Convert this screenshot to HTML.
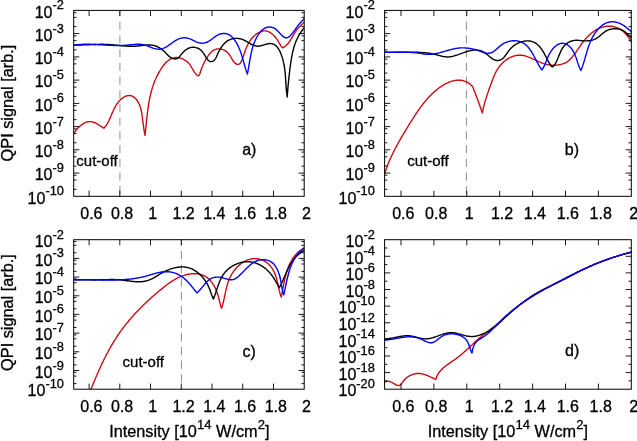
<!DOCTYPE html>
<html lang="en"><head><meta charset="utf-8"><title>QPI signal vs intensity</title>
<style>html,body{margin:0;padding:0;background:#fff}body{width:637px;height:441px;overflow:hidden}</style>
</head><body>
<svg width="637" height="441" viewBox="0 0 637 441" style="display:block">
<rect width="637" height="441" fill="#fff"/>
<defs>
<clipPath id="cpa"><rect x="73.7" y="10.4" width="230.5" height="185.9"/></clipPath>
<clipPath id="cpb"><rect x="384.6" y="10.4" width="246.7" height="185.9"/></clipPath>
<clipPath id="cpc"><rect x="73.7" y="239.7" width="230.5" height="149.5"/></clipPath>
<clipPath id="cpd"><rect x="384.6" y="239.7" width="246.7" height="149.5"/></clipPath>
</defs>
<line x1="119.9" y1="10.4" x2="119.9" y2="196.3" stroke="#a9a9a9" stroke-width="1.3" stroke-dasharray="8.2 5.5" stroke-dashoffset="2.4"/>
<g clip-path="url(#cpa)" fill="none" stroke-width="1.4" stroke-linejoin="round" stroke-linecap="butt">
<path d="M73.8 133.1L74.2 132.6L74.6 132.0L75.0 131.4L75.5 130.9L75.9 130.3L76.4 129.8L76.9 129.2L77.4 128.6L77.9 128.1L78.5 127.5L79.0 127.0L79.6 126.5L80.1 126.0L80.7 125.5L81.3 125.0L81.9 124.6L82.6 124.2L83.2 123.8L83.8 123.4L84.5 123.0L85.1 122.7L85.8 122.4L86.4 122.2L87.1 122.0L87.8 121.8L88.4 121.7L89.1 121.6L89.8 121.6L90.4 121.6L91.1 121.6L91.8 121.7L92.4 121.9L93.1 122.1L93.8 122.3L94.4 122.5L95.1 122.8L95.8 123.1L96.4 123.5L97.1 123.8L97.7 124.2L98.4 124.6L99.0 125.0L99.6 125.4L100.3 125.8L100.9 126.2L101.5 126.7L102.1 127.1L102.7 127.5L103.3 127.8L103.9 128.2L103.9 128.2L104.4 127.6L104.9 127.1L105.3 126.5L105.8 125.9L106.2 125.3L106.6 124.7L107.0 124.1L107.3 123.5L107.7 122.9L108.0 122.3L108.3 121.7L108.7 121.1L109.0 120.5L109.3 119.9L109.5 119.3L109.8 118.6L110.1 118.0L110.4 117.4L110.6 116.8L110.9 116.1L111.2 115.5L111.4 114.9L111.7 114.2L112.0 113.6L112.2 112.9L112.5 112.3L112.8 111.7L113.1 111.0L113.4 110.4L113.7 109.7L114.0 109.1L114.3 108.4L114.7 107.8L115.0 107.1L115.4 106.5L115.8 105.8L116.2 105.2L116.6 104.5L117.0 103.9L117.4 103.3L117.9 102.7L118.4 102.1L118.8 101.5L119.3 100.9L119.8 100.4L120.4 99.8L120.9 99.3L121.4 98.8L122.0 98.4L122.6 97.9L123.2 97.5L123.7 97.1L124.4 96.8L125.0 96.5L125.6 96.2L126.3 96.0L126.9 95.8L127.6 95.7L128.2 95.6L128.9 95.5L129.6 95.5L130.2 95.6L130.8 95.7L131.5 95.8L132.1 96.0L132.6 96.3L133.2 96.6L133.8 97.0L134.3 97.4L134.8 97.8L135.3 98.3L135.8 98.8L136.3 99.3L136.7 99.9L137.1 100.5L137.5 101.1L137.9 101.7L138.3 102.4L138.7 103.1L139.0 103.8L139.3 104.4L139.6 105.1L139.9 105.8L140.1 106.5L140.4 107.2L140.6 107.9L140.8 108.7L141.0 109.4L141.1 110.1L141.3 110.8L141.4 111.5L141.6 112.2L141.7 112.9L141.8 113.6L141.9 114.3L142.0 115.0L142.1 115.7L142.2 116.4L142.3 117.1L142.4 117.8L142.5 118.5L142.5 119.2L142.6 119.9L142.7 120.6L142.8 121.3L142.9 122.0L143.0 122.7L143.1 123.4L143.2 124.1L143.3 124.8L143.4 125.5L143.5 126.2L143.6 126.9L143.7 127.6L143.8 128.3L143.9 129.0L144.0 129.7L144.1 130.4L144.2 131.1L144.3 131.8L144.5 132.5L144.6 133.2L144.7 133.9L144.9 134.6L145.0 135.3L145.0 135.3L145.1 134.6L145.2 133.9L145.2 133.2L145.3 132.5L145.4 131.8L145.5 131.1L145.6 130.4L145.6 129.7L145.7 129.0L145.8 128.3L145.9 127.6L145.9 126.9L146.0 126.1L146.1 125.4L146.2 124.7L146.2 124.0L146.3 123.3L146.4 122.6L146.4 121.9L146.5 121.2L146.6 120.5L146.7 119.8L146.7 119.1L146.8 118.4L146.9 117.7L147.0 117.0L147.0 116.3L147.1 115.6L147.2 114.9L147.3 114.2L147.4 113.5L147.4 112.8L147.5 112.2L147.6 111.5L147.7 110.8L147.8 110.1L147.9 109.4L148.0 108.7L148.1 108.0L148.2 107.3L148.3 106.6L148.4 105.9L148.5 105.2L148.6 104.5L148.7 103.9L148.8 103.2L148.9 102.5L149.0 101.8L149.2 101.1L149.3 100.4L149.4 99.7L149.6 99.1L149.7 98.4L149.8 97.7L150.0 97.0L150.1 96.4L150.3 95.7L150.4 95.0L150.6 94.3L150.8 93.6L150.9 93.0L151.1 92.3L151.3 91.6L151.4 91.0L151.6 90.3L151.8 89.6L152.0 89.0L152.2 88.3L152.4 87.6L152.6 87.0L152.9 86.3L153.1 85.6L153.3 85.0L153.5 84.3L153.8 83.7L154.0 83.0L154.3 82.4L154.5 81.7L154.8 81.1L155.0 80.4L155.3 79.8L155.6 79.1L155.9 78.5L156.2 77.8L156.5 77.2L156.8 76.5L157.1 75.9L157.4 75.3L157.7 74.6L158.1 74.0L158.4 73.3L158.8 72.7L159.1 72.1L159.5 71.5L159.9 70.8L160.2 70.2L160.6 69.6L161.0 68.9L161.4 68.3L161.8 67.7L162.2 67.1L162.7 66.5L163.1 65.9L163.6 65.3L164.0 64.8L164.5 64.2L164.9 63.7L165.4 63.1L165.9 62.6L166.4 62.1L166.9 61.6L167.4 61.2L168.0 60.7L168.5 60.3L169.0 59.9L169.6 59.5L170.2 59.2L170.7 58.9L171.3 58.6L171.9 58.3L172.5 58.1L173.1 57.9L173.8 57.8L174.4 57.6L175.0 57.5L175.7 57.5L176.4 57.5L177.0 57.5L177.7 57.6L178.4 57.7L179.1 57.8L179.8 58.0L180.5 58.2L181.2 58.4L181.9 58.6L182.6 58.9L183.2 59.2L183.9 59.6L184.5 59.9L185.2 60.3L185.8 60.7L186.4 61.2L187.0 61.6L187.5 62.1L188.0 62.6L188.5 63.1L189.0 63.6L189.4 64.1L189.9 64.7L190.3 65.2L190.6 65.8L191.0 66.4L191.4 67.0L191.7 67.6L192.1 68.2L192.4 68.8L192.8 69.4L193.2 70.0L193.5 70.6L193.9 71.3L194.3 71.9L194.7 72.5L195.2 73.1L195.6 73.7L196.1 74.3L196.6 74.8L197.1 75.2L197.5 75.5L198.0 75.7L198.4 75.7L198.8 75.5L199.2 75.2L199.5 74.6L199.8 73.9L200.1 73.1L200.4 72.3L200.6 71.4L200.9 70.6L201.1 69.9L201.4 69.1L201.6 68.5L201.8 67.8L202.1 67.2L202.3 66.6L202.6 66.0L202.8 65.5L203.1 64.9L203.3 64.4L203.6 63.8L203.9 63.2L204.2 62.6L204.5 61.9L204.8 61.3L205.2 60.7L205.5 60.0L205.9 59.4L206.3 58.7L206.6 58.1L207.0 57.5L207.4 56.8L207.8 56.2L208.3 55.6L208.7 55.0L209.2 54.4L209.6 53.8L210.1 53.3L210.6 52.7L211.1 52.2L211.6 51.8L212.2 51.3L212.7 50.9L213.3 50.5L213.9 50.2L214.4 49.9L215.1 49.6L215.7 49.4L216.3 49.2L216.9 49.0L217.6 48.9L218.3 48.9L218.9 48.9L219.6 48.9L220.3 49.0L221.0 49.1L221.6 49.2L222.3 49.4L223.0 49.6L223.6 49.9L224.3 50.2L224.9 50.5L225.5 50.9L226.1 51.3L226.7 51.7L227.2 52.2L227.7 52.7L228.3 53.2L228.7 53.8L229.2 54.4L229.6 55.0L230.0 55.6L230.4 56.3L230.8 56.9L231.2 57.6L231.5 58.2L231.9 58.9L232.3 59.5L232.7 60.1L233.0 60.7L233.4 61.3L233.9 61.9L234.3 62.4L234.8 62.9L235.3 63.3L235.8 63.7L236.4 64.0L237.0 64.3L237.6 64.4L238.1 64.4L238.7 64.3L239.2 64.0L239.7 63.6L240.2 63.2L240.6 62.7L240.9 62.1L241.3 61.5L241.6 60.9L241.9 60.3L242.2 59.6L242.5 58.9L242.7 58.2L243.0 57.4L243.2 56.7L243.4 56.0L243.7 55.3L243.9 54.5L244.1 53.8L244.4 53.1L244.6 52.4L244.8 51.7L245.1 51.1L245.3 50.4L245.6 49.7L245.8 49.0L246.1 48.4L246.4 47.7L246.6 47.1L246.9 46.4L247.2 45.8L247.5 45.2L247.8 44.6L248.1 44.0L248.4 43.4L248.8 42.8L249.1 42.2L249.5 41.6L249.8 41.0L250.2 40.4L250.6 39.9L251.0 39.3L251.5 38.8L251.9 38.3L252.4 37.7L252.8 37.2L253.3 36.7L253.8 36.2L254.3 35.7L254.9 35.3L255.5 34.8L256.0 34.3L256.6 33.9L257.2 33.5L257.9 33.1L258.5 32.7L259.1 32.4L259.8 32.1L260.4 31.8L261.1 31.5L261.7 31.3L262.4 31.1L263.1 31.0L263.7 30.9L264.4 30.9L265.1 30.9L265.7 30.9L266.4 31.0L267.0 31.2L267.7 31.4L268.3 31.6L268.9 31.9L269.6 32.2L270.2 32.5L270.8 32.9L271.4 33.3L271.9 33.8L272.5 34.2L273.0 34.7L273.6 35.2L274.1 35.7L274.6 36.3L275.1 36.8L275.6 37.4L276.0 38.0L276.5 38.6L276.9 39.1L277.3 39.7L277.7 40.3L278.0 40.9L278.4 41.5L278.7 42.1L279.0 42.6L279.4 43.2L279.7 43.8L280.1 44.4L280.4 45.0L280.8 45.6L281.2 46.1L281.6 46.7L282.0 47.3L282.5 47.9L282.5 47.9L283.2 47.6L283.8 47.2L284.4 46.8L285.0 46.4L285.6 46.0L286.1 45.6L286.6 45.1L287.1 44.6L287.6 44.1L288.0 43.5L288.5 43.0L288.9 42.4L289.3 41.8L289.7 41.2L290.1 40.6L290.5 40.0L290.9 39.4L291.3 38.8L291.6 38.1L292.0 37.5L292.3 36.9L292.7 36.2L293.1 35.6L293.4 34.9L293.8 34.3L294.2 33.7L294.6 33.1L295.0 32.4L295.4 31.8L295.8 31.2L296.2 30.6L296.7 30.1L297.1 29.5L297.6 28.9L298.0 28.4L298.5 27.8L299.0 27.3L299.5 26.7L300.0 26.2L300.5 25.7L301.0 25.2L301.5 24.7L302.0 24.2L302.6 23.7L303.1 23.2L303.7 22.7L304.3 22.2L304.8 21.8L305.4 21.3L306.0 20.9" stroke="#cc0a14"/>
<path d="M73.8 45.1L74.5 45.1L75.2 45.1L75.9 45.1L76.6 45.1L77.3 45.1L78.0 45.1L78.7 45.1L79.4 45.0L80.1 45.0L80.8 45.0L81.5 45.0L82.2 45.0L82.9 44.9L83.6 44.9L84.3 44.9L85.0 44.9L85.7 44.8L86.4 44.8L87.1 44.8L87.8 44.7L88.5 44.7L89.3 44.7L90.0 44.6L90.7 44.6L91.4 44.6L92.1 44.6L92.8 44.5L93.5 44.5L94.2 44.5L94.9 44.5L95.6 44.4L96.3 44.4L97.0 44.4L97.7 44.4L98.4 44.4L99.1 44.4L99.8 44.3L100.5 44.3L101.2 44.3L101.9 44.3L102.6 44.3L103.3 44.3L104.0 44.4L104.7 44.4L105.4 44.4L106.1 44.4L106.8 44.4L107.5 44.5L108.2 44.5L108.9 44.5L109.6 44.6L110.3 44.6L111.0 44.7L111.7 44.8L112.4 44.8L113.1 44.9L113.8 44.9L114.5 45.0L115.2 45.1L115.9 45.1L116.6 45.2L117.3 45.3L118.0 45.4L118.7 45.4L119.4 45.5L120.1 45.6L120.8 45.6L121.5 45.7L122.2 45.8L122.9 45.8L123.6 45.9L124.3 46.0L125.0 46.0L125.7 46.1L126.4 46.1L127.1 46.1L127.8 46.2L128.5 46.2L129.2 46.2L129.9 46.3L130.6 46.3L131.3 46.3L132.0 46.3L132.7 46.3L133.4 46.3L134.1 46.3L134.8 46.2L135.5 46.2L136.2 46.2L136.9 46.1L137.6 46.0L138.3 46.0L139.0 45.9L139.7 45.8L140.4 45.7L141.1 45.6L141.8 45.6L142.5 45.5L143.3 45.4L144.0 45.3L144.7 45.2L145.4 45.2L146.1 45.1L146.8 45.0L147.4 45.0L148.1 45.0L148.8 45.0L149.5 45.0L150.2 45.0L150.9 45.0L151.6 45.1L152.2 45.2L152.9 45.3L153.6 45.4L154.3 45.6L154.9 45.8L155.6 46.0L156.2 46.2L156.9 46.5L157.5 46.8L158.2 47.1L158.8 47.5L159.4 47.8L160.0 48.2L160.7 48.6L161.3 49.0L161.8 49.5L162.4 49.9L163.0 50.4L163.6 50.8L164.1 51.3L164.7 51.8L165.2 52.3L165.7 52.9L166.2 53.4L166.7 53.9L167.2 54.4L167.7 54.9L168.2 55.4L168.7 55.9L169.2 56.4L169.7 56.8L170.3 57.2L170.8 57.6L171.4 57.9L172.0 58.2L172.7 58.5L173.3 58.7L174.0 58.9L174.6 59.0L175.3 59.0L176.0 58.9L176.6 58.7L177.2 58.5L177.8 58.1L178.3 57.7L178.8 57.3L179.3 56.8L179.8 56.2L180.3 55.6L180.7 55.1L181.2 54.5L181.7 53.9L182.2 53.4L182.7 52.8L183.2 52.3L183.7 51.8L184.2 51.3L184.7 50.8L185.3 50.3L185.8 49.9L186.4 49.5L187.0 49.1L187.6 48.8L188.2 48.5L188.8 48.2L189.4 47.9L190.0 47.7L190.7 47.6L191.4 47.4L192.0 47.3L192.7 47.3L193.5 47.3L194.2 47.3L194.9 47.4L195.7 47.6L196.4 47.8L197.1 48.0L197.8 48.2L198.5 48.5L199.1 48.8L199.7 49.2L200.2 49.6L200.8 50.0L201.2 50.5L201.7 51.0L202.2 51.5L202.6 52.0L203.0 52.6L203.4 53.1L203.8 53.7L204.2 54.3L204.6 54.9L205.0 55.6L205.3 56.2L205.7 56.8L206.1 57.5L206.6 58.2L207.0 58.8L207.5 59.4L207.9 60.0L208.4 60.5L209.0 60.9L209.5 61.3L210.1 61.5L210.6 61.6L211.2 61.6L211.8 61.5L212.4 61.4L213.0 61.1L213.5 60.8L214.0 60.4L214.5 59.9L214.9 59.4L215.3 58.9L215.7 58.3L216.0 57.7L216.3 57.1L216.6 56.4L216.9 55.7L217.2 55.1L217.5 54.4L217.8 53.7L218.1 53.0L218.4 52.3L218.8 51.7L219.1 51.0L219.5 50.3L219.8 49.7L220.2 49.1L220.6 48.4L221.0 47.8L221.4 47.2L221.8 46.6L222.2 46.0L222.7 45.4L223.1 44.9L223.6 44.3L224.1 43.8L224.6 43.3L225.1 42.8L225.6 42.4L226.1 41.9L226.6 41.5L227.2 41.1L227.8 40.7L228.3 40.4L228.9 40.1L229.5 39.8L230.1 39.5L230.8 39.3L231.4 39.1L232.1 38.9L232.8 38.7L233.4 38.6L234.1 38.5L234.8 38.4L235.5 38.4L236.2 38.4L236.9 38.4L237.7 38.4L238.4 38.5L239.1 38.6L239.8 38.7L240.5 38.9L241.2 39.0L241.8 39.2L242.5 39.5L243.2 39.7L243.8 40.0L244.5 40.3L245.1 40.6L245.7 41.0L246.4 41.3L247.0 41.7L247.6 42.0L248.2 42.4L248.8 42.8L249.4 43.1L250.0 43.5L250.6 43.8L251.2 44.2L251.8 44.5L252.4 44.8L253.0 45.1L253.6 45.3L254.3 45.5L254.9 45.7L255.5 45.9L256.2 46.0L256.8 46.1L257.5 46.2L258.2 46.2L258.9 46.1L259.6 46.0L260.3 45.9L261.1 45.7L261.8 45.5L262.5 45.3L263.3 45.1L264.0 44.9L264.8 44.7L265.5 44.4L266.2 44.2L267.0 44.0L267.7 43.9L268.4 43.7L269.1 43.6L269.8 43.5L270.4 43.5L271.1 43.6L271.7 43.6L272.3 43.8L272.9 43.9L273.4 44.2L274.0 44.4L274.5 44.7L275.0 45.1L275.5 45.5L276.0 45.9L276.5 46.3L276.9 46.8L277.4 47.3L277.8 47.9L278.2 48.5L278.6 49.1L279.0 49.7L279.3 50.3L279.7 51.0L280.0 51.6L280.3 52.3L280.6 53.0L280.9 53.8L281.2 54.5L281.5 55.2L281.7 56.0L282.0 56.7L282.2 57.5L282.5 58.2L282.7 59.0L282.9 59.7L283.1 60.5L283.2 61.2L283.4 61.9L283.6 62.7L283.7 63.4L283.9 64.1L284.0 64.8L284.2 65.5L284.3 66.1L284.4 66.8L284.5 67.5L284.6 68.1L284.7 68.8L284.8 69.5L284.9 70.1L284.9 70.8L285.0 71.4L285.1 72.0L285.1 72.7L285.2 73.3L285.3 73.9L285.3 74.6L285.4 75.2L285.4 75.8L285.5 76.5L285.5 77.1L285.5 77.7L285.6 78.4L285.6 79.0L285.7 79.6L285.7 80.3L285.7 80.9L285.8 81.6L285.8 82.2L285.8 82.9L285.9 83.6L285.9 84.2L286.0 84.9L286.0 85.6L286.1 86.3L286.1 87.0L286.2 87.7L286.2 88.4L286.3 89.2L286.4 89.9L286.4 90.7L286.5 91.4L286.6 92.2L286.7 93.0L286.8 93.8L286.9 94.6L287.0 95.4L287.1 96.2L287.2 97.1L287.2 97.1L287.2 96.4L287.3 95.7L287.3 95.0L287.4 94.3L287.4 93.6L287.5 92.9L287.6 92.2L287.6 91.5L287.7 90.8L287.7 90.1L287.8 89.3L287.8 88.6L287.9 87.9L288.0 87.2L288.0 86.5L288.1 85.8L288.2 85.1L288.2 84.4L288.3 83.7L288.4 83.0L288.4 82.3L288.5 81.6L288.6 80.9L288.6 80.2L288.7 79.5L288.8 78.8L288.9 78.0L288.9 77.3L289.0 76.6L289.1 75.9L289.2 75.2L289.3 74.5L289.3 73.8L289.4 73.1L289.5 72.4L289.6 71.7L289.7 71.0L289.7 70.3L289.8 69.5L289.9 68.8L290.0 68.1L290.1 67.4L290.2 66.7L290.3 66.0L290.4 65.3L290.5 64.6L290.6 63.9L290.7 63.2L290.8 62.5L290.9 61.8L291.0 61.1L291.1 60.4L291.2 59.7L291.3 59.0L291.5 58.2L291.6 57.5L291.7 56.8L291.8 56.1L292.0 55.4L292.1 54.8L292.2 54.1L292.4 53.4L292.5 52.7L292.7 52.0L292.9 51.3L293.0 50.6L293.2 49.9L293.4 49.2L293.6 48.6L293.7 47.9L293.9 47.2L294.1 46.5L294.3 45.9L294.6 45.2L294.8 44.5L295.0 43.9L295.3 43.2L295.5 42.6L295.8 41.9L296.0 41.3L296.3 40.6L296.6 40.0L296.9 39.3L297.2 38.7L297.5 38.1L297.8 37.4L298.1 36.8L298.5 36.2L298.8 35.6L299.2 35.0L299.5 34.4L299.9 33.8L300.3 33.2L300.7 32.6L301.1 32.0L301.5 31.4L301.9 30.8L302.3 30.3L302.8 29.7L303.2 29.1L303.7 28.6L304.1 28.0L304.6 27.4L305.0 26.9L305.5 26.3L306.0 25.8" stroke="#000"/>
<path d="M73.8 45.1L74.5 45.0L75.2 44.9L75.9 44.8L76.6 44.8L77.3 44.7L78.0 44.6L78.7 44.6L79.4 44.5L80.1 44.5L80.8 44.4L81.5 44.4L82.2 44.4L82.9 44.3L83.6 44.3L84.4 44.3L85.1 44.3L85.8 44.3L86.5 44.3L87.2 44.3L87.9 44.3L88.6 44.3L89.3 44.3L90.0 44.3L90.7 44.3L91.4 44.4L92.1 44.4L92.8 44.4L93.5 44.4L94.2 44.5L94.9 44.5L95.6 44.5L96.3 44.6L97.0 44.6L97.7 44.6L98.4 44.7L99.1 44.7L99.8 44.8L100.5 44.8L101.2 44.8L101.9 44.9L102.6 44.9L103.3 45.0L104.0 45.0L104.7 45.1L105.4 45.1L106.1 45.1L106.8 45.2L107.5 45.2L108.2 45.3L108.9 45.3L109.6 45.3L110.3 45.4L111.0 45.4L111.7 45.4L112.4 45.4L113.1 45.5L113.8 45.5L114.5 45.5L115.2 45.5L115.9 45.5L116.6 45.5L117.3 45.5L118.0 45.6L118.7 45.5L119.4 45.5L120.1 45.5L120.8 45.5L121.5 45.5L122.2 45.5L122.9 45.4L123.6 45.4L124.3 45.4L125.0 45.3L125.7 45.3L126.4 45.2L127.1 45.2L127.8 45.1L128.5 45.0L129.2 45.0L129.9 44.9L130.6 44.8L131.3 44.7L132.0 44.6L132.7 44.6L133.4 44.5L134.1 44.4L134.8 44.4L135.5 44.3L136.2 44.3L136.9 44.3L137.6 44.3L138.3 44.2L139.0 44.3L139.7 44.3L140.3 44.3L141.0 44.4L141.7 44.5L142.4 44.6L143.1 44.7L143.8 44.8L144.4 45.0L145.1 45.2L145.8 45.4L146.5 45.6L147.1 45.8L147.8 46.1L148.5 46.4L149.1 46.6L149.8 46.9L150.5 47.2L151.1 47.5L151.8 47.7L152.5 48.0L153.1 48.2L153.8 48.4L154.5 48.6L155.2 48.7L155.9 48.9L156.5 49.0L157.2 49.1L157.9 49.1L158.6 49.2L159.2 49.2L159.9 49.1L160.5 49.0L161.2 48.9L161.8 48.8L162.5 48.6L163.1 48.4L163.7 48.2L164.4 47.9L165.0 47.6L165.6 47.3L166.2 47.0L166.8 46.6L167.4 46.2L168.0 45.9L168.6 45.5L169.1 45.0L169.7 44.6L170.3 44.2L170.9 43.8L171.5 43.3L172.1 42.9L172.7 42.5L173.3 42.0L173.9 41.6L174.5 41.2L175.1 40.8L175.7 40.5L176.3 40.1L176.9 39.8L177.6 39.4L178.2 39.1L178.9 38.9L179.5 38.6L180.2 38.4L180.8 38.2L181.5 38.1L182.2 38.0L182.9 37.9L183.6 37.8L184.3 37.8L185.0 37.8L185.7 37.9L186.4 38.0L187.1 38.1L187.8 38.2L188.5 38.4L189.2 38.6L189.9 38.8L190.5 39.1L191.2 39.3L191.8 39.6L192.5 40.0L193.1 40.3L193.8 40.6L194.4 40.9L195.1 41.3L195.7 41.6L196.3 41.9L197.0 42.1L197.6 42.4L198.3 42.6L198.9 42.8L199.6 42.9L200.2 43.0L200.9 43.1L201.6 43.2L202.2 43.2L202.9 43.1L203.6 43.1L204.2 43.0L204.9 42.9L205.5 42.7L206.1 42.5L206.8 42.3L207.4 42.0L208.0 41.7L208.6 41.4L209.2 41.0L209.8 40.6L210.4 40.2L211.0 39.8L211.5 39.3L212.1 38.9L212.7 38.5L213.3 38.0L213.9 37.6L214.5 37.1L215.1 36.7L215.7 36.3L216.3 35.9L216.9 35.5L217.5 35.1L218.2 34.8L218.8 34.5L219.5 34.2L220.2 34.0L220.9 33.8L221.6 33.7L222.3 33.6L223.0 33.5L223.7 33.5L224.4 33.5L225.1 33.5L225.7 33.6L226.4 33.7L227.1 33.9L227.7 34.1L228.3 34.4L228.9 34.7L229.5 35.0L230.1 35.4L230.6 35.8L231.2 36.3L231.7 36.7L232.2 37.2L232.7 37.7L233.2 38.3L233.6 38.8L234.1 39.4L234.5 39.9L234.9 40.5L235.3 41.1L235.7 41.7L236.1 42.3L236.5 42.9L236.8 43.5L237.2 44.1L237.5 44.8L237.8 45.4L238.1 46.0L238.5 46.6L238.7 47.3L239.0 47.9L239.3 48.6L239.6 49.2L239.8 49.9L240.1 50.5L240.3 51.2L240.6 51.8L240.8 52.5L241.0 53.2L241.3 53.8L241.5 54.5L241.7 55.2L241.9 55.8L242.1 56.5L242.3 57.2L242.5 57.9L242.7 58.5L242.9 59.2L243.1 59.9L243.3 60.6L243.5 61.3L243.7 61.9L243.9 62.6L244.0 63.3L244.2 64.0L244.4 64.6L244.6 65.3L244.8 66.0L245.0 66.7L245.2 67.4L245.4 68.0L245.6 68.7L245.8 69.4L246.0 70.0L246.2 70.7L246.5 71.4L246.7 72.0L246.9 72.7L247.2 73.3L247.4 74.0L247.4 74.0L247.5 73.3L247.7 72.6L247.8 71.9L248.0 71.2L248.1 70.5L248.2 69.8L248.3 69.1L248.5 68.4L248.6 67.7L248.7 67.1L248.8 66.4L248.9 65.7L249.1 65.0L249.2 64.3L249.3 63.6L249.4 62.9L249.5 62.2L249.6 61.5L249.7 60.8L249.9 60.1L250.0 59.4L250.1 58.7L250.2 58.0L250.3 57.3L250.5 56.6L250.6 55.9L250.7 55.3L250.9 54.6L251.0 53.9L251.2 53.2L251.3 52.5L251.5 51.8L251.6 51.1L251.8 50.5L252.0 49.8L252.2 49.1L252.3 48.4L252.5 47.8L252.7 47.1L252.9 46.4L253.1 45.8L253.4 45.1L253.6 44.4L253.8 43.8L254.1 43.1L254.3 42.5L254.6 41.8L254.9 41.2L255.2 40.5L255.5 39.9L255.8 39.2L256.1 38.6L256.4 37.9L256.7 37.3L257.1 36.7L257.5 36.0L257.8 35.4L258.2 34.8L258.6 34.2L259.0 33.6L259.5 33.0L259.9 32.4L260.4 31.9L260.9 31.3L261.3 30.8L261.9 30.3L262.4 29.8L262.9 29.4L263.5 29.0L264.0 28.6L264.6 28.3L265.2 28.0L265.9 27.7L266.5 27.5L267.2 27.3L267.8 27.2L268.5 27.1L269.2 27.0L269.9 27.0L270.5 27.1L271.2 27.2L271.9 27.3L272.6 27.5L273.2 27.7L273.8 28.0L274.4 28.3L275.0 28.7L275.6 29.1L276.2 29.6L276.8 30.1L277.3 30.6L277.9 31.1L278.4 31.7L279.0 32.3L279.5 32.9L280.0 33.5L280.6 34.1L281.1 34.6L281.6 35.2L282.2 35.7L282.7 36.2L283.3 36.6L283.8 37.0L284.4 37.3L284.9 37.5L285.5 37.7L286.0 37.8L286.6 37.8L287.1 37.7L287.6 37.6L288.2 37.4L288.7 37.1L289.2 36.7L289.7 36.3L290.2 35.8L290.7 35.3L291.1 34.8L291.6 34.2L292.1 33.6L292.5 33.0L293.0 32.4L293.4 31.8L293.9 31.3L294.3 30.7L294.7 30.1L295.2 29.5L295.6 28.9L296.0 28.3L296.4 27.7L296.9 27.2L297.3 26.6L297.7 26.0L298.1 25.5L298.6 24.9L299.0 24.4L299.4 23.8L299.9 23.3L300.3 22.8L300.8 22.2L301.3 21.7L301.8 21.2L302.2 20.7L302.7 20.2L303.3 19.8L303.8 19.3L304.3 18.8L304.9 18.4L305.4 17.9L306.0 17.5" stroke="#0000ff"/>
</g>
<path d="M73.7 26.6L76.5 26.6M304.2 26.6L301.4 26.6M73.7 17.4L76.5 17.4M304.2 17.4L301.4 17.4M73.7 12.7L76.5 12.7M304.2 12.7L301.4 12.7M73.7 33.6L79.3 33.6M304.2 33.6L298.6 33.6M73.7 49.9L76.5 49.9M304.2 49.9L301.4 49.9M73.7 40.6L76.5 40.6M304.2 40.6L301.4 40.6M73.7 35.9L76.5 35.9M304.2 35.9L301.4 35.9M73.7 56.9L79.3 56.9M304.2 56.9L298.6 56.9M73.7 73.1L76.5 73.1M304.2 73.1L301.4 73.1M73.7 63.9L76.5 63.9M304.2 63.9L301.4 63.9M73.7 59.1L76.5 59.1M304.2 59.1L301.4 59.1M73.7 80.1L79.3 80.1M304.2 80.1L298.6 80.1M73.7 96.4L76.5 96.4M304.2 96.4L301.4 96.4M73.7 87.1L76.5 87.1M304.2 87.1L301.4 87.1M73.7 82.4L76.5 82.4M304.2 82.4L301.4 82.4M73.7 103.4L79.3 103.4M304.2 103.4L298.6 103.4M73.7 119.6L76.5 119.6M304.2 119.6L301.4 119.6M73.7 110.3L76.5 110.3M304.2 110.3L301.4 110.3M73.7 105.6L76.5 105.6M304.2 105.6L301.4 105.6M73.7 126.6L79.3 126.6M304.2 126.6L298.6 126.6M73.7 142.8L76.5 142.8M304.2 142.8L301.4 142.8M73.7 133.6L76.5 133.6M304.2 133.6L301.4 133.6M73.7 128.8L76.5 128.8M304.2 128.8L301.4 128.8M73.7 149.8L79.3 149.8M304.2 149.8L298.6 149.8M73.7 166.1L76.5 166.1M304.2 166.1L301.4 166.1M73.7 156.8L76.5 156.8M304.2 156.8L301.4 156.8M73.7 152.1L76.5 152.1M304.2 152.1L301.4 152.1M73.7 173.1L79.3 173.1M304.2 173.1L298.6 173.1M73.7 189.3L76.5 189.3M304.2 189.3L301.4 189.3M73.7 180.1L76.5 180.1M304.2 180.1L301.4 180.1M73.7 175.3L76.5 175.3M304.2 175.3L301.4 175.3M89.1 10.4L89.1 16.0M89.1 196.3L89.1 190.7M119.8 10.4L119.8 16.0M119.8 196.3L119.8 190.7M150.5 10.4L150.5 16.0M150.5 196.3L150.5 190.7M181.3 10.4L181.3 16.0M181.3 196.3L181.3 190.7M212.0 10.4L212.0 16.0M212.0 196.3L212.0 190.7M242.7 10.4L242.7 16.0M242.7 196.3L242.7 190.7M273.5 10.4L273.5 16.0M273.5 196.3L273.5 190.7" stroke="#000" stroke-width="0.9" fill="none"/>
<rect x="73.7" y="10.4" width="230.5" height="185.9" fill="none" stroke="#000" stroke-width="1"/>
<text x="63.9" y="17.6" text-anchor="end" font-size="16" font-family="Liberation Sans, Arial, Helvetica, sans-serif" stroke="#000" stroke-width="0.3" fill="#000">10<tspan dy="-8.2" font-size="12.8">-2</tspan></text>
<text x="63.9" y="40.8" text-anchor="end" font-size="16" font-family="Liberation Sans, Arial, Helvetica, sans-serif" stroke="#000" stroke-width="0.3" fill="#000">10<tspan dy="-8.2" font-size="12.8">-3</tspan></text>
<text x="63.9" y="64.1" text-anchor="end" font-size="16" font-family="Liberation Sans, Arial, Helvetica, sans-serif" stroke="#000" stroke-width="0.3" fill="#000">10<tspan dy="-8.2" font-size="12.8">-4</tspan></text>
<text x="63.9" y="87.3" text-anchor="end" font-size="16" font-family="Liberation Sans, Arial, Helvetica, sans-serif" stroke="#000" stroke-width="0.3" fill="#000">10<tspan dy="-8.2" font-size="12.8">-5</tspan></text>
<text x="63.9" y="110.6" text-anchor="end" font-size="16" font-family="Liberation Sans, Arial, Helvetica, sans-serif" stroke="#000" stroke-width="0.3" fill="#000">10<tspan dy="-8.2" font-size="12.8">-6</tspan></text>
<text x="63.9" y="133.8" text-anchor="end" font-size="16" font-family="Liberation Sans, Arial, Helvetica, sans-serif" stroke="#000" stroke-width="0.3" fill="#000">10<tspan dy="-8.2" font-size="12.8">-7</tspan></text>
<text x="63.9" y="157.0" text-anchor="end" font-size="16" font-family="Liberation Sans, Arial, Helvetica, sans-serif" stroke="#000" stroke-width="0.3" fill="#000">10<tspan dy="-8.2" font-size="12.8">-8</tspan></text>
<text x="63.9" y="180.3" text-anchor="end" font-size="16" font-family="Liberation Sans, Arial, Helvetica, sans-serif" stroke="#000" stroke-width="0.3" fill="#000">10<tspan dy="-8.2" font-size="12.8">-9</tspan></text>
<text x="63.9" y="203.5" text-anchor="end" font-size="16" font-family="Liberation Sans, Arial, Helvetica, sans-serif" stroke="#000" stroke-width="0.3" fill="#000">10<tspan dy="-8.2" font-size="12.8">-10</tspan></text>
<text x="91.4" y="218.8" text-anchor="middle" font-size="16" font-family="Liberation Sans, Arial, Helvetica, sans-serif" stroke="#000" stroke-width="0.3" fill="#000">0.6</text>
<text x="122.1" y="218.8" text-anchor="middle" font-size="16" font-family="Liberation Sans, Arial, Helvetica, sans-serif" stroke="#000" stroke-width="0.3" fill="#000">0.8</text>
<text x="152.8" y="218.8" text-anchor="middle" font-size="16" font-family="Liberation Sans, Arial, Helvetica, sans-serif" stroke="#000" stroke-width="0.3" fill="#000">1</text>
<text x="183.6" y="218.8" text-anchor="middle" font-size="16" font-family="Liberation Sans, Arial, Helvetica, sans-serif" stroke="#000" stroke-width="0.3" fill="#000">1.2</text>
<text x="214.3" y="218.8" text-anchor="middle" font-size="16" font-family="Liberation Sans, Arial, Helvetica, sans-serif" stroke="#000" stroke-width="0.3" fill="#000">1.4</text>
<text x="245.0" y="218.8" text-anchor="middle" font-size="16" font-family="Liberation Sans, Arial, Helvetica, sans-serif" stroke="#000" stroke-width="0.3" fill="#000">1.6</text>
<text x="275.8" y="218.8" text-anchor="middle" font-size="16" font-family="Liberation Sans, Arial, Helvetica, sans-serif" stroke="#000" stroke-width="0.3" fill="#000">1.8</text>
<text x="306.5" y="218.8" text-anchor="middle" font-size="16" font-family="Liberation Sans, Arial, Helvetica, sans-serif" stroke="#000" stroke-width="0.3" fill="#000">2</text>
<text x="242.2" y="155.4" font-size="16" font-family="Liberation Sans, Arial, Helvetica, sans-serif" stroke="#000" stroke-width="0.3" fill="#000">a)</text>
<text x="76.3" y="165.8" font-size="15" font-family="Liberation Sans, Arial, Helvetica, sans-serif" stroke="#000" stroke-width="0.3" fill="#000">cut-off</text>
<line x1="466.4" y1="10.4" x2="466.4" y2="196.3" stroke="#666" stroke-width="0.75" stroke-dasharray="8.2 5.5" stroke-dashoffset="2.4"/>
<g clip-path="url(#cpb)" fill="none" stroke-width="1.4" stroke-linejoin="round" stroke-linecap="butt">
<path d="M384.6 173.9L384.8 173.2L385.0 172.6L385.2 171.9L385.5 171.2L385.7 170.5L385.9 169.9L386.1 169.2L386.4 168.5L386.6 167.9L386.9 167.2L387.1 166.6L387.4 165.9L387.6 165.2L387.9 164.6L388.1 163.9L388.4 163.3L388.7 162.6L388.9 162.0L389.2 161.3L389.5 160.7L389.7 160.0L390.0 159.4L390.3 158.7L390.6 158.1L390.9 157.4L391.2 156.8L391.5 156.1L391.8 155.5L392.1 154.9L392.4 154.2L392.7 153.6L393.0 153.0L393.3 152.3L393.6 151.7L394.0 151.1L394.3 150.4L394.6 149.8L394.9 149.2L395.2 148.5L395.6 147.9L395.9 147.3L396.2 146.6L396.6 146.0L396.9 145.4L397.2 144.8L397.6 144.1L397.9 143.5L398.3 142.9L398.6 142.3L399.0 141.7L399.3 141.0L399.7 140.4L400.0 139.8L400.4 139.2L400.7 138.6L401.1 138.0L401.4 137.4L401.8 136.7L402.1 136.1L402.5 135.5L402.9 134.9L403.2 134.3L403.6 133.7L403.9 133.1L404.3 132.5L404.7 131.9L405.0 131.3L405.4 130.7L405.8 130.1L406.1 129.4L406.5 128.8L406.9 128.2L407.3 127.6L407.6 127.0L408.0 126.4L408.4 125.8L408.7 125.2L409.1 124.6L409.5 124.0L409.8 123.4L410.2 122.8L410.6 122.2L411.0 121.6L411.3 121.1L411.7 120.5L412.1 119.9L412.5 119.3L412.8 118.7L413.2 118.1L413.6 117.5L414.0 116.9L414.3 116.3L414.7 115.7L415.1 115.1L415.5 114.6L415.9 114.0L416.2 113.4L416.6 112.8L417.0 112.2L417.4 111.7L417.8 111.1L418.2 110.5L418.6 109.9L419.0 109.4L419.4 108.8L419.8 108.2L420.2 107.7L420.6 107.1L421.0 106.5L421.5 106.0L421.9 105.4L422.3 104.9L422.7 104.3L423.2 103.7L423.6 103.2L424.0 102.7L424.5 102.1L424.9 101.6L425.4 101.0L425.8 100.5L426.3 99.9L426.8 99.4L427.2 98.9L427.7 98.4L428.2 97.8L428.7 97.3L429.2 96.8L429.7 96.3L430.2 95.8L430.7 95.3L431.2 94.7L431.7 94.2L432.2 93.7L432.7 93.2L433.3 92.8L433.8 92.3L434.3 91.8L434.9 91.3L435.4 90.8L436.0 90.3L436.6 89.9L437.2 89.4L437.7 88.9L438.3 88.5L438.9 88.0L439.5 87.6L440.1 87.2L440.7 86.8L441.3 86.3L441.9 85.9L442.5 85.6L443.1 85.2L443.8 84.8L444.4 84.4L445.0 84.1L445.6 83.7L446.3 83.4L446.9 83.1L447.6 82.8L448.2 82.5L448.8 82.2L449.5 82.0L450.1 81.7L450.8 81.5L451.4 81.3L452.1 81.1L452.8 80.9L453.4 80.8L454.1 80.6L454.7 80.5L455.4 80.4L456.1 80.3L456.7 80.2L457.4 80.2L458.0 80.1L458.7 80.1L459.4 80.2L460.0 80.2L460.7 80.2L461.4 80.3L462.0 80.4L462.7 80.6L463.3 80.7L464.0 80.9L464.6 81.1L465.3 81.3L465.9 81.6L466.5 81.9L467.1 82.2L467.7 82.5L468.3 82.9L468.9 83.3L469.5 83.7L470.1 84.1L470.7 84.6L471.2 85.2L471.8 85.7L472.3 86.3L472.8 86.9L472.8 86.9L477.8 99.9L482.4 112.9L482.4 112.9L482.5 112.2L482.7 111.5L482.8 110.8L482.9 110.1L483.1 109.4L483.2 108.7L483.4 108.0L483.5 107.3L483.7 106.6L483.9 105.9L484.0 105.2L484.2 104.6L484.4 103.9L484.6 103.2L484.8 102.5L485.0 101.9L485.1 101.2L485.3 100.5L485.5 99.8L485.7 99.2L485.9 98.5L486.2 97.8L486.4 97.2L486.6 96.5L486.8 95.8L487.0 95.2L487.2 94.5L487.5 93.8L487.7 93.2L487.9 92.5L488.2 91.8L488.4 91.2L488.6 90.5L488.9 89.9L489.1 89.2L489.3 88.5L489.6 87.9L489.8 87.2L490.1 86.6L490.3 85.9L490.5 85.2L490.8 84.6L491.0 83.9L491.3 83.2L491.5 82.6L491.8 81.9L492.0 81.2L492.3 80.6L492.5 79.9L492.8 79.2L493.0 78.6L493.3 77.9L493.5 77.3L493.8 76.6L494.1 75.9L494.4 75.3L494.7 74.6L494.9 74.0L495.2 73.3L495.6 72.7L495.9 72.1L496.2 71.4L496.5 70.8L496.9 70.2L497.3 69.6L497.6 69.0L498.0 68.4L498.4 67.8L498.8 67.2L499.3 66.6L499.7 66.0L500.1 65.5L500.6 64.9L501.1 64.4L501.6 63.9L502.1 63.4L502.6 62.9L503.1 62.4L503.7 61.9L504.2 61.4L504.8 61.0L505.3 60.5L505.9 60.1L506.5 59.7L507.1 59.3L507.7 58.9L508.3 58.5L508.9 58.2L509.5 57.9L510.2 57.5L510.8 57.2L511.4 57.0L512.1 56.7L512.7 56.5L513.4 56.2L514.0 56.0L514.7 55.9L515.3 55.7L516.0 55.6L516.7 55.4L517.3 55.3L518.0 55.3L518.7 55.2L519.3 55.2L520.0 55.2L520.7 55.2L521.4 55.3L522.0 55.3L522.7 55.4L523.4 55.5L524.0 55.7L524.7 55.8L525.4 56.0L526.0 56.2L526.7 56.4L527.4 56.6L528.0 56.9L528.7 57.1L529.4 57.4L530.0 57.6L530.7 57.9L531.3 58.2L532.0 58.5L532.7 58.8L533.3 59.1L534.0 59.4L534.7 59.7L535.3 60.0L536.0 60.3L536.7 60.7L537.3 61.0L538.0 61.3L538.7 61.6L539.3 61.9L540.0 62.2L540.7 62.4L541.3 62.7L542.0 63.0L542.7 63.2L543.4 63.5L544.0 63.7L544.7 63.9L545.4 64.1L546.1 64.3L546.7 64.5L547.4 64.6L548.1 64.8L548.8 64.9L549.5 65.0L550.1 65.1L550.8 65.1L551.5 65.2L552.2 65.2L552.9 65.3L553.5 65.3L554.2 65.3L554.9 65.2L555.6 65.2L556.3 65.1L557.0 65.1L557.7 65.0L558.3 64.9L559.0 64.7L559.7 64.6L560.4 64.5L561.1 64.3L561.8 64.1L562.5 63.9L563.2 63.7L563.8 63.5L564.5 63.2L565.2 63.0L565.9 62.7L566.6 62.4L566.6 62.4L567.2 61.9L567.7 61.5L568.3 61.0L568.8 60.5L569.4 60.0L569.9 59.6L570.4 59.0L570.9 58.5L571.3 58.0L571.8 57.5L572.3 57.0L572.7 56.4L573.1 55.9L573.6 55.4L574.0 54.8L574.4 54.3L574.8 53.7L575.3 53.1L575.7 52.6L576.1 52.0L576.5 51.4L576.9 50.9L577.2 50.3L577.6 49.7L578.0 49.1L578.4 48.6L578.8 48.0L579.2 47.4L579.6 46.8L580.0 46.2L580.4 45.7L580.8 45.1L581.2 44.5L581.6 43.9L582.0 43.3L582.4 42.8L582.9 42.2L583.3 41.6L583.7 41.1L584.2 40.5L584.6 39.9L585.1 39.4L585.6 38.8L586.1 38.3L586.6 37.8L587.1 37.2L587.6 36.7L588.1 36.2L588.6 35.7L589.2 35.1L589.7 34.7L590.3 34.2L590.8 33.7L591.4 33.2L591.9 32.8L592.5 32.3L593.1 31.9L593.7 31.5L594.3 31.0L594.9 30.6L595.5 30.3L596.1 29.9L596.8 29.5L597.4 29.2L598.0 28.9L598.7 28.6L599.3 28.3L599.9 28.0L600.6 27.7L601.3 27.5L601.9 27.3L602.6 27.1L603.3 26.9L603.9 26.7L604.6 26.6L605.3 26.5L606.0 26.4L606.7 26.3L607.4 26.2L608.0 26.2L608.7 26.2L609.4 26.2L610.1 26.2L610.8 26.3L611.5 26.3L612.2 26.4L612.8 26.5L613.5 26.7L614.2 26.8L614.9 27.0L615.5 27.2L616.2 27.4L616.8 27.6L617.5 27.9L618.1 28.1L618.7 28.4L619.3 28.8L620.0 29.1L620.5 29.4L621.1 29.8L621.7 30.2L622.3 30.6L622.8 31.1L623.4 31.5L623.9 32.0L624.4 32.5L624.9 33.0L625.4 33.6L625.9 34.1L626.4 34.7L626.8 35.2L627.3 35.8L627.8 36.4L628.2 37.0L628.6 37.6L629.0 38.2L629.5 38.8L629.9 39.4L630.3 40.0L630.7 40.6L631.1 41.2L631.4 41.8L631.8 42.5L632.2 43.1L632.6 43.7L632.9 44.3L633.3 44.8L633.6 45.4L634.0 46.0" stroke="#cc0a14"/>
<path d="M384.6 52.3L385.3 52.3L386.0 52.3L386.7 52.3L387.4 52.3L388.1 52.4L388.8 52.4L389.5 52.4L390.2 52.4L390.9 52.4L391.6 52.4L392.3 52.4L393.0 52.4L393.7 52.4L394.4 52.3L395.1 52.3L395.8 52.3L396.5 52.3L397.2 52.3L397.9 52.3L398.6 52.3L399.3 52.3L400.1 52.3L400.8 52.3L401.5 52.2L402.2 52.2L402.9 52.2L403.6 52.2L404.3 52.2L405.0 52.2L405.7 52.2L406.4 52.2L407.1 52.2L407.8 52.2L408.5 52.2L409.2 52.2L409.9 52.2L410.6 52.2L411.3 52.2L412.0 52.2L412.7 52.2L413.5 52.2L414.2 52.2L414.9 52.2L415.6 52.2L416.3 52.3L417.0 52.3L417.7 52.3L418.4 52.3L419.0 52.4L419.7 52.4L420.4 52.4L421.1 52.5L421.8 52.5L422.5 52.6L423.2 52.6L423.9 52.7L424.6 52.7L425.3 52.8L426.0 52.9L426.7 52.9L427.4 53.0L428.1 53.1L428.7 53.2L429.4 53.3L430.1 53.4L430.8 53.5L431.5 53.7L432.2 53.8L432.9 53.9L433.6 54.1L434.3 54.2L435.0 54.4L435.7 54.6L436.4 54.8L437.1 54.9L437.8 55.1L438.5 55.3L439.2 55.5L439.9 55.7L440.6 55.9L441.3 56.1L442.0 56.2L442.7 56.4L443.3 56.5L444.0 56.6L444.7 56.7L445.4 56.8L446.1 56.9L446.8 56.9L447.5 57.0L448.1 57.0L448.8 56.9L449.5 56.9L450.2 56.8L450.8 56.7L451.5 56.6L452.2 56.4L452.8 56.3L453.5 56.1L454.2 55.9L454.8 55.7L455.5 55.5L456.2 55.3L456.8 55.1L457.5 54.8L458.2 54.6L458.9 54.3L459.5 54.1L460.2 53.8L460.9 53.6L461.6 53.3L462.3 53.1L463.0 52.8L463.7 52.6L464.3 52.4L465.0 52.1L465.7 51.9L466.4 51.7L467.1 51.5L467.8 51.3L468.5 51.1L469.2 50.9L469.9 50.7L470.6 50.6L471.3 50.5L471.9 50.3L472.6 50.2L473.3 50.1L474.0 50.1L474.7 50.0L475.3 50.0L476.0 50.0L476.7 50.0L477.4 50.1L478.0 50.2L478.7 50.3L479.3 50.4L480.0 50.5L480.6 50.7L481.3 50.9L481.9 51.2L482.5 51.5L483.2 51.8L483.8 52.1L484.4 52.5L485.0 52.9L485.6 53.4L486.2 53.8L486.8 54.3L487.4 54.8L488.0 55.3L488.6 55.8L489.2 56.3L489.8 56.8L490.4 57.2L491.0 57.7L491.5 58.1L492.1 58.6L492.7 59.0L493.3 59.3L493.9 59.6L494.6 59.9L495.2 60.2L495.8 60.3L496.4 60.5L497.1 60.5L497.7 60.5L498.3 60.5L499.0 60.4L499.6 60.2L500.3 60.0L500.9 59.7L501.5 59.4L502.0 59.0L502.6 58.6L503.1 58.2L503.6 57.7L504.1 57.2L504.5 56.6L505.0 56.1L505.4 55.5L505.8 54.9L506.3 54.3L506.7 53.7L507.1 53.1L507.5 52.5L508.0 51.9L508.4 51.3L508.8 50.7L509.3 50.2L509.7 49.6L510.2 49.1L510.7 48.5L511.2 48.0L511.7 47.5L512.2 47.0L512.8 46.6L513.3 46.1L513.9 45.7L514.4 45.3L515.0 44.9L515.6 44.5L516.2 44.1L516.8 43.8L517.4 43.4L518.1 43.1L518.7 42.8L519.4 42.5L520.0 42.3L520.7 42.0L521.4 41.8L522.1 41.6L522.8 41.5L523.5 41.3L524.1 41.2L524.8 41.1L525.5 41.0L526.2 40.9L526.9 40.9L527.6 40.9L528.3 40.9L529.0 41.0L529.7 41.0L530.3 41.1L531.0 41.3L531.7 41.4L532.3 41.6L533.0 41.8L533.6 42.1L534.2 42.4L534.8 42.7L535.4 43.0L536.0 43.4L536.5 43.8L537.1 44.2L537.6 44.7L538.2 45.2L538.7 45.7L539.2 46.2L539.7 46.7L540.2 47.3L540.6 47.9L541.1 48.5L541.5 49.1L541.9 49.7L542.3 50.3L542.7 50.9L543.1 51.5L543.5 52.2L543.9 52.8L544.2 53.5L544.6 54.1L544.9 54.8L545.3 55.4L545.6 56.1L545.9 56.7L546.3 57.4L546.6 58.0L546.9 58.7L547.2 59.3L547.6 60.0L547.9 60.6L548.2 61.2L548.6 61.9L548.9 62.5L549.3 63.1L549.6 63.7L550.0 64.3L550.4 64.8L550.7 65.4L551.1 65.9L551.5 66.4L551.9 66.7L552.3 66.8L552.8 66.7L553.2 66.5L553.6 66.1L554.0 65.6L554.4 65.1L554.7 64.6L555.1 64.0L555.4 63.5L555.8 62.9L556.1 62.3L556.4 61.6L556.7 61.0L557.0 60.4L557.3 59.7L557.6 59.0L557.8 58.4L558.1 57.7L558.4 57.0L558.7 56.3L559.0 55.6L559.2 54.9L559.5 54.2L559.8 53.5L560.1 52.9L560.4 52.2L560.7 51.5L561.0 50.8L561.4 50.2L561.7 49.5L562.1 48.9L562.4 48.3L562.8 47.7L563.2 47.1L563.6 46.5L564.1 46.0L564.6 45.5L565.0 45.0L565.5 44.5L566.1 44.0L566.6 43.6L567.2 43.2L567.8 42.8L568.3 42.4L569.0 42.1L569.6 41.8L570.2 41.5L570.9 41.3L571.5 41.0L572.2 40.9L572.9 40.7L573.5 40.6L574.2 40.4L574.9 40.4L575.6 40.3L576.3 40.3L577.0 40.3L577.7 40.3L578.4 40.4L579.2 40.4L579.9 40.5L580.6 40.6L581.3 40.6L582.0 40.7L582.7 40.8L583.4 40.8L584.2 40.9L584.9 40.9L585.6 40.9L586.3 40.9L587.0 40.9L587.7 40.8L588.4 40.8L589.1 40.7L589.8 40.6L590.4 40.5L591.1 40.4L591.8 40.3L592.4 40.1L593.1 39.9L593.7 39.7L594.4 39.4L595.0 39.2L595.6 38.9L596.2 38.6L596.8 38.2L597.3 37.8L597.9 37.4L598.5 37.0L599.0 36.6L599.6 36.1L600.1 35.6L600.7 35.2L601.2 34.7L601.7 34.2L602.3 33.7L602.9 33.3L603.4 32.8L604.0 32.4L604.6 32.0L605.2 31.6L605.8 31.2L606.4 30.8L607.1 30.5L607.7 30.2L608.4 29.9L609.1 29.7L609.7 29.5L610.4 29.3L611.1 29.1L611.8 29.0L612.5 28.9L613.2 28.8L613.9 28.7L614.6 28.7L615.3 28.7L616.0 28.7L616.7 28.7L617.4 28.8L618.1 28.9L618.8 29.0L619.4 29.2L620.1 29.4L620.8 29.6L621.4 29.8L622.1 30.1L622.7 30.4L623.3 30.7L623.9 31.1L624.5 31.5L625.0 31.9L625.6 32.3L626.1 32.8L626.7 33.2L627.2 33.7L627.7 34.2L628.3 34.7L628.8 35.2L629.3 35.7L629.7 36.3L630.2 36.8L630.7 37.3L631.2 37.9L631.7 38.4L632.1 39.0L632.6 39.5L633.1 40.0L633.5 40.5L634.0 41.0" stroke="#000"/>
<path d="M384.6 52.3L385.3 52.3L386.0 52.3L386.7 52.3L387.4 52.3L388.1 52.3L388.8 52.3L389.5 52.3L390.2 52.3L390.9 52.3L391.6 52.3L392.3 52.3L393.0 52.3L393.7 52.3L394.5 52.3L395.2 52.3L395.9 52.3L396.6 52.3L397.3 52.3L398.0 52.3L398.7 52.3L399.4 52.3L400.1 52.3L400.8 52.3L401.5 52.3L402.2 52.3L402.9 52.3L403.6 52.3L404.3 52.3L405.0 52.3L405.7 52.3L406.4 52.3L407.1 52.3L407.8 52.3L408.5 52.4L409.2 52.4L409.9 52.4L410.6 52.4L411.3 52.5L412.0 52.5L412.7 52.5L413.4 52.6L414.1 52.6L414.8 52.7L415.5 52.7L416.2 52.8L416.9 52.9L417.7 53.0L418.4 53.1L419.1 53.2L419.8 53.3L420.5 53.4L421.2 53.5L421.9 53.6L422.6 53.7L423.3 53.8L424.0 54.0L424.7 54.1L425.4 54.1L426.1 54.2L426.8 54.3L427.5 54.3L428.2 54.3L428.9 54.3L429.6 54.3L430.3 54.3L431.0 54.2L431.7 54.2L432.4 54.1L433.1 54.0L433.8 53.9L434.5 53.8L435.1 53.7L435.8 53.6L436.5 53.4L437.2 53.3L437.9 53.1L438.6 53.0L439.3 52.8L440.0 52.6L440.6 52.4L441.3 52.2L442.0 52.1L442.7 51.9L443.4 51.7L444.1 51.5L444.7 51.3L445.4 51.1L446.1 50.9L446.8 50.7L447.5 50.5L448.2 50.3L448.8 50.1L449.5 49.9L450.2 49.7L450.9 49.6L451.6 49.4L452.3 49.2L452.9 49.1L453.6 48.9L454.3 48.8L455.0 48.6L455.7 48.5L456.4 48.4L457.1 48.3L457.7 48.2L458.4 48.1L459.1 48.0L459.8 48.0L460.5 47.9L461.2 47.9L461.9 47.9L462.6 47.9L463.3 47.9L464.0 47.9L464.6 47.9L465.3 48.0L466.0 48.0L466.7 48.1L467.4 48.1L468.1 48.2L468.8 48.3L469.5 48.4L470.2 48.5L470.9 48.6L471.6 48.7L472.2 48.9L472.9 49.0L473.6 49.2L474.3 49.4L475.0 49.5L475.7 49.7L476.4 49.9L477.0 50.1L477.7 50.4L478.4 50.6L479.1 50.8L479.8 51.1L480.5 51.3L481.1 51.6L481.8 51.8L482.5 52.1L483.2 52.3L483.8 52.6L484.5 52.8L485.2 53.0L485.8 53.1L486.5 53.2L487.1 53.3L487.8 53.4L488.4 53.3L489.1 53.3L489.7 53.2L490.3 53.0L490.9 52.8L491.5 52.6L492.1 52.3L492.7 52.0L493.3 51.7L493.9 51.3L494.4 50.9L495.0 50.5L495.5 50.0L496.1 49.5L496.6 49.1L497.2 48.6L497.7 48.1L498.3 47.6L498.8 47.1L499.4 46.6L500.0 46.1L500.5 45.6L501.1 45.2L501.7 44.7L502.3 44.3L502.9 43.9L503.6 43.5L504.2 43.2L504.9 42.9L505.5 42.6L506.2 42.3L506.9 42.0L507.6 41.8L508.3 41.6L509.0 41.4L509.7 41.2L510.4 41.1L511.1 41.0L511.8 40.9L512.5 40.8L513.2 40.8L513.9 40.7L514.6 40.7L515.3 40.8L516.0 40.8L516.7 40.9L517.4 41.0L518.0 41.1L518.7 41.2L519.4 41.4L520.0 41.6L520.7 41.8L521.3 42.1L521.9 42.3L522.5 42.6L523.1 42.9L523.7 43.3L524.2 43.6L524.8 44.0L525.3 44.4L525.8 44.9L526.3 45.3L526.8 45.8L527.3 46.3L527.8 46.8L528.2 47.3L528.7 47.8L529.1 48.4L529.6 48.9L530.0 49.5L530.4 50.1L530.8 50.7L531.2 51.3L531.6 51.9L532.0 52.6L532.4 53.2L532.7 53.9L533.1 54.5L533.5 55.2L533.8 55.8L534.2 56.5L534.5 57.1L534.9 57.8L535.2 58.5L535.6 59.1L535.9 59.8L536.3 60.4L536.6 61.1L536.9 61.7L537.3 62.4L537.6 63.0L538.0 63.7L538.3 64.3L538.6 64.9L539.0 65.5L539.3 66.1L539.7 66.7L540.0 67.3L540.4 67.8L540.8 68.4L541.1 68.9L541.5 69.4L541.9 69.9L541.9 69.9L542.3 69.3L542.7 68.7L543.0 68.1L543.4 67.5L543.7 66.9L544.0 66.3L544.4 65.6L544.7 65.0L544.9 64.3L545.2 63.7L545.5 63.0L545.8 62.4L546.0 61.7L546.3 61.1L546.6 60.4L546.8 59.7L547.1 59.0L547.4 58.4L547.7 57.7L547.9 57.0L548.2 56.4L548.5 55.7L548.8 55.1L549.2 54.4L549.5 53.7L549.9 53.1L550.2 52.5L550.6 51.8L551.0 51.2L551.5 50.6L551.9 50.0L552.4 49.4L552.8 48.8L553.3 48.2L553.8 47.7L554.4 47.1L554.9 46.7L555.5 46.2L556.0 45.7L556.6 45.3L557.2 44.9L557.8 44.6L558.4 44.3L559.0 44.0L559.6 43.8L560.2 43.6L560.9 43.4L561.5 43.3L562.2 43.3L562.8 43.3L563.4 43.4L564.1 43.5L564.7 43.6L565.4 43.8L566.0 44.1L566.6 44.4L567.2 44.7L567.8 45.1L568.4 45.5L569.0 45.9L569.5 46.4L570.0 46.9L570.5 47.4L571.0 48.0L571.5 48.6L571.9 49.2L572.4 49.8L572.8 50.4L573.2 51.1L573.5 51.7L573.9 52.4L574.2 53.1L574.6 53.8L574.9 54.5L575.2 55.2L575.4 55.9L575.7 56.6L576.0 57.2L576.2 57.9L576.4 58.6L576.7 59.3L576.9 60.0L577.1 60.7L577.3 61.4L577.5 62.0L577.8 62.7L578.0 63.4L578.2 64.0L578.4 64.7L578.7 65.4L578.9 66.0L579.1 66.7L579.4 67.3L579.7 68.0L580.0 68.6L580.3 69.2L580.6 69.9L580.9 70.5L580.9 70.5L581.2 69.8L581.4 69.1L581.7 68.5L582.0 67.8L582.2 67.1L582.5 66.4L582.7 65.8L582.9 65.1L583.1 64.4L583.4 63.8L583.6 63.1L583.8 62.4L584.0 61.7L584.2 61.1L584.4 60.4L584.6 59.7L584.8 59.0L585.0 58.4L585.2 57.7L585.4 57.0L585.5 56.4L585.7 55.7L585.9 55.0L586.1 54.3L586.3 53.7L586.5 53.0L586.7 52.3L586.9 51.7L587.1 51.0L587.3 50.3L587.5 49.7L587.7 49.0L587.9 48.3L588.1 47.7L588.4 47.0L588.6 46.3L588.8 45.7L589.1 45.0L589.3 44.3L589.6 43.7L589.9 43.0L590.1 42.3L590.4 41.7L590.7 41.0L591.0 40.4L591.3 39.7L591.6 39.0L592.0 38.4L592.3 37.7L592.7 37.1L593.0 36.4L593.4 35.7L593.8 35.1L594.2 34.5L594.6 33.8L595.0 33.2L595.4 32.6L595.8 32.0L596.3 31.4L596.7 30.8L597.2 30.2L597.7 29.6L598.2 29.1L598.7 28.5L599.2 28.0L599.7 27.5L600.2 27.0L600.7 26.5L601.3 26.1L601.8 25.6L602.4 25.2L602.9 24.8L603.5 24.4L604.1 24.1L604.7 23.7L605.3 23.4L605.9 23.2L606.5 22.9L607.1 22.7L607.8 22.5L608.4 22.3L609.1 22.2L609.7 22.0L610.4 21.9L611.1 21.9L611.7 21.8L612.4 21.8L613.1 21.8L613.8 21.9L614.4 21.9L615.1 22.0L615.8 22.2L616.5 22.3L617.2 22.5L617.8 22.7L618.5 22.9L619.2 23.2L619.8 23.4L620.5 23.7L621.1 24.0L621.8 24.4L622.4 24.7L623.0 25.1L623.7 25.5L624.3 25.9L624.9 26.4L625.5 26.8L626.1 27.2L626.7 27.7L627.2 28.2L627.8 28.7L628.4 29.1L628.9 29.6L629.5 30.1L630.0 30.6L630.5 31.1L631.1 31.6L631.6 32.1L632.1 32.6L632.6 33.1L633.1 33.6L633.5 34.0L634.0 34.5" stroke="#0000ff"/>
</g>
<path d="M384.6 26.6L387.4 26.6M631.3 26.6L628.5 26.6M384.6 17.4L387.4 17.4M631.3 17.4L628.5 17.4M384.6 12.7L387.4 12.7M631.3 12.7L628.5 12.7M384.6 33.6L390.2 33.6M631.3 33.6L625.7 33.6M384.6 49.9L387.4 49.9M631.3 49.9L628.5 49.9M384.6 40.6L387.4 40.6M631.3 40.6L628.5 40.6M384.6 35.9L387.4 35.9M631.3 35.9L628.5 35.9M384.6 56.9L390.2 56.9M631.3 56.9L625.7 56.9M384.6 73.1L387.4 73.1M631.3 73.1L628.5 73.1M384.6 63.9L387.4 63.9M631.3 63.9L628.5 63.9M384.6 59.1L387.4 59.1M631.3 59.1L628.5 59.1M384.6 80.1L390.2 80.1M631.3 80.1L625.7 80.1M384.6 96.4L387.4 96.4M631.3 96.4L628.5 96.4M384.6 87.1L387.4 87.1M631.3 87.1L628.5 87.1M384.6 82.4L387.4 82.4M631.3 82.4L628.5 82.4M384.6 103.4L390.2 103.4M631.3 103.4L625.7 103.4M384.6 119.6L387.4 119.6M631.3 119.6L628.5 119.6M384.6 110.3L387.4 110.3M631.3 110.3L628.5 110.3M384.6 105.6L387.4 105.6M631.3 105.6L628.5 105.6M384.6 126.6L390.2 126.6M631.3 126.6L625.7 126.6M384.6 142.8L387.4 142.8M631.3 142.8L628.5 142.8M384.6 133.6L387.4 133.6M631.3 133.6L628.5 133.6M384.6 128.8L387.4 128.8M631.3 128.8L628.5 128.8M384.6 149.8L390.2 149.8M631.3 149.8L625.7 149.8M384.6 166.1L387.4 166.1M631.3 166.1L628.5 166.1M384.6 156.8L387.4 156.8M631.3 156.8L628.5 156.8M384.6 152.1L387.4 152.1M631.3 152.1L628.5 152.1M384.6 173.1L390.2 173.1M631.3 173.1L625.7 173.1M384.6 189.3L387.4 189.3M631.3 189.3L628.5 189.3M384.6 180.1L387.4 180.1M631.3 180.1L628.5 180.1M384.6 175.3L387.4 175.3M631.3 175.3L628.5 175.3M401.0 10.4L401.0 16.0M401.0 196.3L401.0 190.7M433.9 10.4L433.9 16.0M433.9 196.3L433.9 190.7M466.8 10.4L466.8 16.0M466.8 196.3L466.8 190.7M499.7 10.4L499.7 16.0M499.7 196.3L499.7 190.7M532.6 10.4L532.6 16.0M532.6 196.3L532.6 190.7M565.5 10.4L565.5 16.0M565.5 196.3L565.5 190.7M598.4 10.4L598.4 16.0M598.4 196.3L598.4 190.7" stroke="#000" stroke-width="0.9" fill="none"/>
<rect x="384.6" y="10.4" width="246.7" height="185.9" fill="none" stroke="#000" stroke-width="1"/>
<text x="374.8" y="17.6" text-anchor="end" font-size="16" font-family="Liberation Sans, Arial, Helvetica, sans-serif" stroke="#000" stroke-width="0.3" fill="#000">10<tspan dy="-8.2" font-size="12.8">-2</tspan></text>
<text x="374.8" y="40.8" text-anchor="end" font-size="16" font-family="Liberation Sans, Arial, Helvetica, sans-serif" stroke="#000" stroke-width="0.3" fill="#000">10<tspan dy="-8.2" font-size="12.8">-3</tspan></text>
<text x="374.8" y="64.1" text-anchor="end" font-size="16" font-family="Liberation Sans, Arial, Helvetica, sans-serif" stroke="#000" stroke-width="0.3" fill="#000">10<tspan dy="-8.2" font-size="12.8">-4</tspan></text>
<text x="374.8" y="87.3" text-anchor="end" font-size="16" font-family="Liberation Sans, Arial, Helvetica, sans-serif" stroke="#000" stroke-width="0.3" fill="#000">10<tspan dy="-8.2" font-size="12.8">-5</tspan></text>
<text x="374.8" y="110.6" text-anchor="end" font-size="16" font-family="Liberation Sans, Arial, Helvetica, sans-serif" stroke="#000" stroke-width="0.3" fill="#000">10<tspan dy="-8.2" font-size="12.8">-6</tspan></text>
<text x="374.8" y="133.8" text-anchor="end" font-size="16" font-family="Liberation Sans, Arial, Helvetica, sans-serif" stroke="#000" stroke-width="0.3" fill="#000">10<tspan dy="-8.2" font-size="12.8">-7</tspan></text>
<text x="374.8" y="157.0" text-anchor="end" font-size="16" font-family="Liberation Sans, Arial, Helvetica, sans-serif" stroke="#000" stroke-width="0.3" fill="#000">10<tspan dy="-8.2" font-size="12.8">-8</tspan></text>
<text x="374.8" y="180.3" text-anchor="end" font-size="16" font-family="Liberation Sans, Arial, Helvetica, sans-serif" stroke="#000" stroke-width="0.3" fill="#000">10<tspan dy="-8.2" font-size="12.8">-9</tspan></text>
<text x="374.8" y="203.5" text-anchor="end" font-size="16" font-family="Liberation Sans, Arial, Helvetica, sans-serif" stroke="#000" stroke-width="0.3" fill="#000">10<tspan dy="-8.2" font-size="12.8">-10</tspan></text>
<text x="403.3" y="218.8" text-anchor="middle" font-size="16" font-family="Liberation Sans, Arial, Helvetica, sans-serif" stroke="#000" stroke-width="0.3" fill="#000">0.6</text>
<text x="436.2" y="218.8" text-anchor="middle" font-size="16" font-family="Liberation Sans, Arial, Helvetica, sans-serif" stroke="#000" stroke-width="0.3" fill="#000">0.8</text>
<text x="469.1" y="218.8" text-anchor="middle" font-size="16" font-family="Liberation Sans, Arial, Helvetica, sans-serif" stroke="#000" stroke-width="0.3" fill="#000">1</text>
<text x="502.0" y="218.8" text-anchor="middle" font-size="16" font-family="Liberation Sans, Arial, Helvetica, sans-serif" stroke="#000" stroke-width="0.3" fill="#000">1.2</text>
<text x="534.9" y="218.8" text-anchor="middle" font-size="16" font-family="Liberation Sans, Arial, Helvetica, sans-serif" stroke="#000" stroke-width="0.3" fill="#000">1.4</text>
<text x="567.8" y="218.8" text-anchor="middle" font-size="16" font-family="Liberation Sans, Arial, Helvetica, sans-serif" stroke="#000" stroke-width="0.3" fill="#000">1.6</text>
<text x="600.7" y="218.8" text-anchor="middle" font-size="16" font-family="Liberation Sans, Arial, Helvetica, sans-serif" stroke="#000" stroke-width="0.3" fill="#000">1.8</text>
<text x="633.6" y="218.8" text-anchor="middle" font-size="16" font-family="Liberation Sans, Arial, Helvetica, sans-serif" stroke="#000" stroke-width="0.3" fill="#000">2</text>
<text x="564.8" y="155.3" font-size="16" font-family="Liberation Sans, Arial, Helvetica, sans-serif" stroke="#000" stroke-width="0.3" fill="#000">b)</text>
<text x="407.2" y="165.5" font-size="15" font-family="Liberation Sans, Arial, Helvetica, sans-serif" stroke="#000" stroke-width="0.3" fill="#000">cut-off</text>
<line x1="181.4" y1="239.7" x2="181.4" y2="389.2" stroke="#666" stroke-width="0.75" stroke-dasharray="8.2 5.5" stroke-dashoffset="2.4"/>
<g clip-path="url(#cpc)" fill="none" stroke-width="1.4" stroke-linejoin="round" stroke-linecap="butt">
<path d="M88.0 397.0L88.2 396.4L88.5 395.7L88.7 395.1L89.0 394.4L89.2 393.8L89.5 393.1L89.8 392.5L90.0 391.8L90.3 391.2L90.5 390.5L90.8 389.9L91.0 389.2L91.3 388.6L91.5 387.9L91.8 387.3L92.1 386.6L92.3 386.0L92.6 385.3L92.8 384.7L93.1 384.0L93.4 383.4L93.6 382.7L93.9 382.1L94.2 381.4L94.4 380.8L94.7 380.1L95.0 379.4L95.3 378.8L95.5 378.1L95.8 377.5L96.1 376.8L96.3 376.2L96.6 375.6L96.9 374.9L97.2 374.3L97.5 373.6L97.7 373.0L98.0 372.3L98.3 371.7L98.6 371.0L98.9 370.4L99.2 369.7L99.5 369.1L99.8 368.4L100.1 367.8L100.4 367.2L100.6 366.5L100.9 365.9L101.2 365.2L101.5 364.6L101.8 363.9L102.1 363.3L102.5 362.7L102.8 362.0L103.1 361.4L103.4 360.8L103.7 360.1L104.0 359.5L104.3 358.9L104.6 358.2L105.0 357.6L105.3 357.0L105.6 356.3L105.9 355.7L106.2 355.1L106.6 354.4L106.9 353.8L107.2 353.2L107.6 352.6L107.9 352.0L108.2 351.3L108.6 350.7L108.9 350.1L109.2 349.5L109.6 348.9L109.9 348.2L110.3 347.6L110.6 347.0L111.0 346.4L111.3 345.8L111.7 345.2L112.0 344.6L112.4 344.0L112.7 343.4L113.1 342.8L113.5 342.2L113.8 341.6L114.2 341.0L114.6 340.4L115.0 339.8L115.3 339.2L115.7 338.6L116.1 338.0L116.5 337.4L116.8 336.8L117.2 336.3L117.6 335.7L118.0 335.1L118.4 334.5L118.8 333.9L119.2 333.4L119.6 332.8L120.0 332.2L120.4 331.6L120.8 331.1L121.2 330.5L121.6 329.9L122.0 329.4L122.5 328.8L122.9 328.3L123.3 327.7L123.7 327.2L124.1 326.6L124.6 326.0L125.0 325.5L125.4 324.9L125.9 324.4L126.3 323.9L126.7 323.3L127.2 322.8L127.6 322.2L128.1 321.7L128.5 321.2L128.9 320.6L129.4 320.1L129.8 319.6L130.3 319.0L130.8 318.5L131.2 318.0L131.7 317.4L132.1 316.9L132.6 316.4L133.1 315.9L133.5 315.4L134.0 314.8L134.5 314.3L134.9 313.8L135.4 313.3L135.9 312.8L136.4 312.3L136.8 311.8L137.3 311.3L137.8 310.7L138.3 310.2L138.8 309.7L139.3 309.2L139.8 308.7L140.2 308.2L140.7 307.7L141.2 307.2L141.7 306.7L142.2 306.3L142.7 305.8L143.2 305.3L143.7 304.8L144.2 304.3L144.8 303.8L145.3 303.3L145.8 302.8L146.3 302.3L146.8 301.9L147.3 301.4L147.8 300.9L148.3 300.4L148.9 299.9L149.4 299.5L149.9 299.0L150.4 298.5L151.0 298.0L151.5 297.6L152.0 297.1L152.5 296.6L153.1 296.2L153.6 295.7L154.1 295.2L154.7 294.8L155.2 294.3L155.7 293.8L156.3 293.4L156.8 292.9L157.4 292.5L157.9 292.0L158.4 291.5L159.0 291.1L159.5 290.6L160.1 290.2L160.6 289.7L161.2 289.3L161.7 288.8L162.3 288.4L162.8 287.9L163.4 287.5L163.9 287.0L164.5 286.6L165.1 286.1L165.6 285.7L166.2 285.3L166.8 284.8L167.3 284.4L167.9 284.0L168.5 283.6L169.0 283.2L169.6 282.7L170.2 282.3L170.8 282.0L171.4 281.6L172.0 281.2L172.6 280.8L173.2 280.4L173.8 280.1L174.4 279.7L175.0 279.4L175.6 279.0L176.2 278.7L176.8 278.4L177.4 278.0L178.1 277.7L178.7 277.4L179.3 277.1L180.0 276.9L180.6 276.6L181.2 276.3L181.9 276.1L182.5 275.8L183.2 275.6L183.9 275.4L184.5 275.2L185.2 275.0L185.9 274.8L186.6 274.6L187.3 274.5L188.0 274.3L188.7 274.2L189.4 274.1L190.1 274.0L190.8 273.9L191.5 273.8L192.2 273.8L192.9 273.7L193.6 273.7L194.4 273.7L195.1 273.7L195.8 273.7L196.5 273.8L197.2 273.8L197.9 273.9L198.6 274.0L199.3 274.1L199.9 274.3L200.6 274.4L201.2 274.6L201.9 274.8L202.5 275.0L203.2 275.3L203.8 275.5L204.4 275.8L205.0 276.1L205.5 276.5L206.1 276.8L206.6 277.2L207.2 277.6L207.7 278.0L208.2 278.4L208.7 278.9L209.2 279.3L209.7 279.8L210.2 280.3L210.6 280.8L211.0 281.4L211.5 281.9L211.9 282.4L212.3 283.0L212.7 283.6L213.1 284.2L213.5 284.8L213.8 285.4L214.2 286.0L214.5 286.7L214.9 287.3L215.2 287.9L215.5 288.6L215.8 289.3L216.1 289.9L216.3 290.6L216.6 291.3L216.9 292.0L217.1 292.7L217.3 293.4L217.6 294.1L217.8 294.8L218.0 295.5L218.2 296.2L218.4 296.9L218.6 297.6L218.8 298.3L219.0 299.0L219.2 299.7L219.3 300.4L219.5 301.1L219.7 301.8L219.9 302.5L220.0 303.2L220.2 303.9L220.4 304.6L220.6 305.2L220.7 305.9L220.9 306.5L221.1 307.2L221.3 307.8L221.5 308.4L221.5 308.4L221.7 307.7L221.9 307.1L222.1 306.4L222.4 305.7L222.5 305.0L222.7 304.4L222.9 303.7L223.1 303.0L223.3 302.3L223.4 301.6L223.6 301.0L223.7 300.3L223.9 299.6L224.1 298.9L224.2 298.2L224.3 297.5L224.5 296.8L224.6 296.1L224.8 295.5L224.9 294.8L225.1 294.1L225.2 293.4L225.4 292.7L225.5 292.0L225.7 291.3L225.8 290.6L226.0 289.9L226.1 289.3L226.3 288.6L226.5 287.9L226.6 287.2L226.8 286.5L227.0 285.8L227.2 285.2L227.4 284.5L227.6 283.8L227.8 283.1L228.0 282.5L228.2 281.8L228.5 281.1L228.7 280.5L229.0 279.8L229.2 279.2L229.5 278.5L229.8 277.9L230.1 277.2L230.4 276.6L230.8 275.9L231.1 275.3L231.4 274.7L231.8 274.1L232.2 273.4L232.6 272.8L233.0 272.2L233.4 271.6L233.8 271.0L234.3 270.4L234.7 269.9L235.2 269.3L235.6 268.7L236.1 268.2L236.6 267.6L237.1 267.1L237.6 266.6L238.2 266.1L238.7 265.6L239.2 265.1L239.8 264.6L240.3 264.2L240.9 263.7L241.5 263.3L242.1 262.9L242.7 262.5L243.2 262.1L243.8 261.7L244.5 261.4L245.1 261.1L245.7 260.8L246.3 260.5L247.0 260.2L247.6 259.9L248.2 259.7L248.9 259.5L249.5 259.3L250.2 259.1L250.9 259.0L251.5 258.9L252.2 258.8L252.9 258.7L253.5 258.6L254.2 258.6L254.9 258.6L255.6 258.6L256.3 258.7L256.9 258.7L257.6 258.8L258.3 258.9L259.0 259.1L259.7 259.2L260.3 259.4L261.0 259.6L261.6 259.9L262.3 260.1L262.9 260.4L263.6 260.7L264.2 261.0L264.8 261.3L265.4 261.7L266.0 262.1L266.5 262.5L267.1 262.9L267.7 263.3L268.2 263.8L268.7 264.2L269.2 264.7L269.7 265.2L270.2 265.8L270.6 266.3L271.0 266.9L271.5 267.4L271.9 268.0L272.3 268.6L272.6 269.2L273.0 269.8L273.4 270.4L273.7 271.1L274.0 271.7L274.3 272.4L274.6 273.0L274.9 273.7L275.1 274.4L275.4 275.1L275.6 275.7L275.9 276.4L276.1 277.1L276.3 277.8L276.5 278.5L276.7 279.2L276.9 280.0L277.1 280.7L277.2 281.4L277.4 282.1L277.6 282.8L277.7 283.5L277.9 284.3L278.1 285.0L278.2 285.7L278.4 286.4L278.5 287.1L278.7 287.8L278.8 288.5L279.0 289.2L279.1 289.9L279.3 290.6L279.5 291.3L279.6 292.0L279.8 292.6L280.0 293.3L280.2 293.9L280.4 294.6L280.6 295.2L280.8 295.9L281.0 296.5L281.2 297.1L281.2 297.1L281.3 296.4L281.5 295.8L281.6 295.1L281.7 294.4L281.9 293.7L282.0 293.1L282.1 292.4L282.3 291.7L282.4 291.0L282.5 290.3L282.7 289.6L282.8 288.9L282.9 288.2L283.1 287.5L283.2 286.8L283.3 286.1L283.5 285.4L283.6 284.7L283.7 284.0L283.9 283.3L284.0 282.5L284.2 281.8L284.3 281.1L284.5 280.4L284.7 279.7L284.8 279.0L285.0 278.3L285.2 277.6L285.3 276.9L285.5 276.2L285.7 275.5L285.9 274.8L286.1 274.1L286.3 273.4L286.5 272.7L286.7 272.0L286.9 271.3L287.1 270.6L287.4 269.9L287.6 269.2L287.8 268.6L288.1 267.9L288.3 267.2L288.6 266.6L288.9 265.9L289.1 265.3L289.4 264.6L289.7 264.0L290.0 263.3L290.3 262.7L290.7 262.1L291.0 261.5L291.3 260.9L291.7 260.3L292.0 259.7L292.4 259.1L292.8 258.5L293.1 257.9L293.5 257.4L294.0 256.8L294.4 256.3L294.8 255.7L295.2 255.2L295.7 254.7L296.2 254.1L296.6 253.6L297.1 253.1L297.6 252.7L298.1 252.2L298.6 251.7L299.2 251.3L299.7 250.8L300.3 250.4L300.9 250.0L301.5 249.5L302.1 249.1L302.7 248.8L303.3 248.4L304.0 248.0L304.6 247.7L305.3 247.3L306.0 247.0" stroke="#cc0a14"/>
<path d="M73.8 279.8L74.5 279.8L75.2 279.8L75.9 279.7L76.6 279.7L77.3 279.7L78.0 279.7L78.7 279.7L79.4 279.7L80.1 279.7L80.8 279.7L81.5 279.7L82.2 279.7L82.9 279.8L83.6 279.8L84.3 279.8L85.1 279.8L85.8 279.8L86.5 279.8L87.2 279.9L87.9 279.9L88.6 279.9L89.3 279.9L90.0 279.9L90.7 279.9L91.4 279.9L92.2 279.9L92.9 280.0L93.6 280.0L94.3 280.0L95.0 280.0L95.7 280.0L96.4 280.0L97.1 279.9L97.8 279.9L98.5 279.9L99.2 279.9L99.9 279.9L100.6 279.8L101.3 279.8L102.0 279.8L102.7 279.8L103.4 279.7L104.1 279.7L104.8 279.7L105.5 279.7L106.2 279.6L106.8 279.6L107.5 279.6L108.2 279.6L108.9 279.6L109.6 279.5L110.3 279.5L111.0 279.5L111.7 279.5L112.4 279.5L113.1 279.5L113.8 279.5L114.5 279.5L115.2 279.6L115.9 279.6L116.6 279.6L117.3 279.7L118.0 279.7L118.7 279.7L119.5 279.8L120.2 279.9L120.9 279.9L121.6 280.0L122.3 280.1L123.0 280.2L123.7 280.3L124.4 280.4L125.2 280.5L125.9 280.6L126.6 280.7L127.3 280.8L128.0 280.8L128.7 280.9L129.5 281.0L130.2 281.1L130.9 281.2L131.6 281.3L132.3 281.4L133.0 281.5L133.7 281.5L134.4 281.6L135.2 281.6L135.9 281.7L136.6 281.7L137.3 281.7L138.0 281.8L138.7 281.8L139.3 281.8L140.0 281.7L140.7 281.7L141.4 281.7L142.1 281.6L142.8 281.5L143.4 281.5L144.1 281.3L144.8 281.2L145.4 281.1L146.1 280.9L146.8 280.8L147.4 280.6L148.1 280.4L148.7 280.1L149.3 279.9L150.0 279.7L150.6 279.4L151.2 279.1L151.9 278.8L152.5 278.5L153.1 278.2L153.7 277.9L154.3 277.5L154.9 277.2L155.5 276.8L156.1 276.5L156.7 276.1L157.3 275.7L157.9 275.3L158.5 275.0L159.1 274.6L159.7 274.2L160.3 273.9L160.9 273.5L161.6 273.1L162.2 272.8L162.8 272.4L163.5 272.1L164.1 271.8L164.8 271.4L165.4 271.1L166.1 270.8L166.8 270.5L167.4 270.2L168.1 270.0L168.8 269.7L169.5 269.4L170.1 269.2L170.8 268.9L171.5 268.7L172.2 268.5L172.9 268.3L173.6 268.1L174.3 267.9L175.0 267.8L175.7 267.6L176.4 267.5L177.1 267.4L177.7 267.3L178.4 267.2L179.1 267.1L179.8 267.0L180.5 267.0L181.2 266.9L181.9 266.9L182.6 266.9L183.3 266.9L183.9 267.0L184.6 267.0L185.3 267.1L185.9 267.2L186.6 267.3L187.3 267.5L187.9 267.6L188.6 267.8L189.2 268.0L189.9 268.2L190.5 268.4L191.1 268.7L191.8 268.9L192.4 269.2L193.0 269.5L193.6 269.9L194.2 270.2L194.8 270.5L195.4 270.9L196.0 271.3L196.5 271.7L197.1 272.1L197.7 272.5L198.2 273.0L198.8 273.4L199.3 273.9L199.8 274.4L200.3 274.9L200.9 275.4L201.4 275.9L201.8 276.4L202.3 277.0L202.8 277.5L203.3 278.1L203.7 278.7L204.2 279.2L204.6 279.8L205.0 280.4L205.4 281.0L205.8 281.6L206.2 282.2L206.6 282.8L206.9 283.5L207.3 284.1L207.6 284.7L208.0 285.4L208.3 286.0L208.6 286.7L208.9 287.3L209.1 288.0L209.4 288.6L209.7 289.3L209.9 289.9L210.2 290.6L210.4 291.3L210.6 291.9L210.8 292.6L211.1 293.2L211.3 293.9L211.5 294.5L211.8 295.2L212.0 295.8L212.3 296.5L212.5 297.1L212.8 297.8L213.1 298.4L213.4 299.0L213.4 299.0L213.7 298.4L213.9 297.7L214.2 297.1L214.4 296.4L214.7 295.8L214.9 295.1L215.1 294.5L215.4 293.8L215.6 293.1L215.8 292.4L216.0 291.8L216.2 291.1L216.5 290.4L216.7 289.7L216.9 289.1L217.1 288.4L217.4 287.7L217.6 287.0L217.8 286.3L218.1 285.7L218.3 285.0L218.5 284.3L218.8 283.7L219.0 283.0L219.3 282.3L219.6 281.7L219.8 281.0L220.1 280.4L220.4 279.7L220.7 279.1L221.0 278.5L221.3 277.8L221.7 277.2L222.0 276.6L222.4 276.0L222.7 275.4L223.1 274.8L223.5 274.2L223.9 273.7L224.4 273.1L224.8 272.6L225.2 272.0L225.7 271.5L226.2 271.0L226.7 270.5L227.2 270.0L227.7 269.5L228.3 269.0L228.8 268.6L229.4 268.1L230.0 267.7L230.5 267.3L231.1 266.9L231.7 266.5L232.4 266.1L233.0 265.7L233.6 265.4L234.3 265.0L234.9 264.7L235.6 264.4L236.2 264.1L236.9 263.8L237.6 263.6L238.2 263.3L238.9 263.1L239.6 262.9L240.3 262.7L241.0 262.5L241.7 262.4L242.4 262.2L243.1 262.1L243.8 262.0L244.5 261.9L245.2 261.8L245.9 261.8L246.6 261.7L247.3 261.7L248.0 261.7L248.6 261.7L249.3 261.8L250.0 261.8L250.7 261.9L251.4 262.0L252.1 262.1L252.7 262.3L253.4 262.4L254.1 262.6L254.7 262.8L255.4 263.0L256.1 263.2L256.7 263.5L257.4 263.7L258.0 264.0L258.6 264.3L259.2 264.6L259.9 264.9L260.5 265.2L261.1 265.6L261.7 265.9L262.3 266.3L262.9 266.7L263.5 267.1L264.0 267.5L264.6 267.9L265.2 268.4L265.7 268.8L266.3 269.3L266.8 269.7L267.3 270.2L267.8 270.7L268.3 271.2L268.8 271.7L269.3 272.3L269.8 272.8L270.3 273.3L270.7 273.9L271.2 274.4L271.6 275.0L272.1 275.6L272.5 276.2L272.9 276.8L273.3 277.4L273.7 278.0L274.1 278.6L274.4 279.2L274.8 279.8L275.2 280.4L275.5 281.0L275.9 281.6L276.2 282.3L276.6 282.9L276.9 283.5L277.3 284.1L277.6 284.7L277.9 285.3L278.3 285.9L278.6 286.5L279.0 287.1L279.3 287.7L279.3 287.7L279.6 287.1L280.0 286.5L280.3 285.9L280.6 285.2L280.9 284.6L281.2 284.0L281.5 283.3L281.8 282.7L282.1 282.1L282.4 281.4L282.7 280.8L283.0 280.1L283.3 279.5L283.5 278.8L283.8 278.1L284.1 277.5L284.4 276.8L284.7 276.2L285.0 275.5L285.3 274.8L285.5 274.2L285.8 273.5L286.1 272.9L286.4 272.2L286.7 271.6L287.0 270.9L287.3 270.3L287.6 269.6L287.9 269.0L288.3 268.3L288.6 267.7L288.9 267.1L289.3 266.4L289.6 265.8L289.9 265.2L290.3 264.6L290.7 264.0L291.0 263.4L291.4 262.8L291.8 262.2L292.2 261.6L292.6 261.0L293.0 260.5L293.4 259.9L293.8 259.3L294.3 258.8L294.7 258.3L295.2 257.7L295.6 257.2L296.1 256.7L296.6 256.2L297.1 255.7L297.6 255.2L298.1 254.7L298.7 254.3L299.2 253.8L299.8 253.4L300.3 252.9L300.9 252.5L301.5 252.1L302.1 251.7L302.7 251.3L303.3 251.0L304.0 250.6L304.6 250.3L305.3 249.9L306.0 249.6" stroke="#000"/>
<path d="M73.8 279.8L74.5 279.8L75.2 279.8L75.9 279.7L76.6 279.7L77.4 279.7L78.1 279.7L78.8 279.7L79.5 279.7L80.2 279.7L80.9 279.7L81.6 279.7L82.3 279.7L83.1 279.7L83.8 279.7L84.5 279.7L85.2 279.7L85.9 279.7L86.6 279.7L87.3 279.7L88.0 279.7L88.7 279.7L89.4 279.7L90.1 279.7L90.9 279.8L91.6 279.8L92.3 279.8L93.0 279.8L93.7 279.8L94.4 279.8L95.1 279.8L95.8 279.9L96.5 279.9L97.2 279.9L97.9 279.9L98.6 279.9L99.3 279.9L100.0 279.9L100.7 280.0L101.4 280.0L102.2 280.0L102.9 280.0L103.6 280.0L104.3 280.0L105.0 280.0L105.7 280.0L106.4 280.0L107.1 280.1L107.8 280.1L108.5 280.1L109.2 280.1L109.9 280.1L110.6 280.1L111.3 280.1L112.0 280.1L112.7 280.0L113.4 280.0L114.1 280.0L114.8 280.0L115.5 280.0L116.2 280.0L116.9 280.0L117.6 279.9L118.3 279.9L119.0 279.9L119.7 279.9L120.4 279.8L121.1 279.8L121.8 279.8L122.5 279.7L123.2 279.7L123.9 279.6L124.6 279.6L125.3 279.5L126.0 279.5L126.7 279.4L127.4 279.3L128.1 279.3L128.8 279.2L129.5 279.1L130.2 279.1L130.9 279.0L131.6 278.9L132.3 278.8L133.0 278.7L133.7 278.6L134.4 278.5L135.1 278.4L135.8 278.3L136.5 278.2L137.2 278.0L137.9 277.9L138.6 277.8L139.3 277.7L140.0 277.5L140.7 277.4L141.4 277.2L142.1 277.1L142.8 276.9L143.5 276.7L144.2 276.6L144.9 276.4L145.6 276.2L146.3 276.0L147.0 275.8L147.7 275.6L148.4 275.4L149.1 275.2L149.8 275.0L150.5 274.8L151.2 274.6L151.9 274.4L152.6 274.2L153.3 274.0L154.0 273.8L154.7 273.6L155.3 273.4L156.0 273.2L156.7 273.0L157.4 272.9L158.1 272.7L158.8 272.6L159.5 272.4L160.2 272.3L160.9 272.2L161.6 272.0L162.3 271.9L163.0 271.9L163.7 271.8L164.3 271.7L165.0 271.7L165.7 271.7L166.4 271.7L167.1 271.7L167.8 271.7L168.5 271.7L169.1 271.8L169.8 271.9L170.5 272.0L171.2 272.1L171.9 272.3L172.5 272.4L173.2 272.6L173.9 272.8L174.5 273.0L175.2 273.2L175.8 273.4L176.5 273.7L177.1 274.0L177.7 274.3L178.4 274.6L179.0 274.9L179.6 275.2L180.2 275.6L180.8 276.0L181.4 276.3L182.0 276.7L182.6 277.1L183.1 277.6L183.7 278.0L184.3 278.5L184.8 278.9L185.3 279.4L185.9 279.9L186.4 280.4L186.9 280.9L187.4 281.4L187.9 282.0L188.4 282.5L188.9 283.0L189.4 283.6L189.9 284.1L190.3 284.7L190.8 285.2L191.3 285.8L191.7 286.4L192.2 286.9L192.6 287.5L193.1 288.0L193.5 288.6L193.9 289.2L194.4 289.7L194.8 290.3L195.2 290.8L195.6 291.3L196.1 291.9L196.5 292.4L196.9 292.9L196.9 292.9L197.4 292.5L197.9 292.1L198.4 291.6L198.9 291.1L199.4 290.6L199.8 290.1L200.3 289.6L200.8 289.0L201.2 288.5L201.7 287.9L202.1 287.3L202.6 286.8L203.1 286.2L203.5 285.6L204.0 285.0L204.5 284.4L204.9 283.9L205.4 283.3L205.9 282.8L206.4 282.2L206.9 281.7L207.4 281.2L207.9 280.8L208.5 280.3L209.0 279.9L209.6 279.5L210.2 279.1L210.8 278.7L211.4 278.4L212.0 278.1L212.6 277.9L213.3 277.7L214.0 277.5L214.6 277.3L215.3 277.2L216.0 277.1L216.7 277.1L217.4 277.1L218.1 277.1L218.8 277.1L219.5 277.2L220.2 277.3L221.0 277.5L221.7 277.7L222.4 277.8L223.1 278.0L223.8 278.2L224.5 278.4L225.3 278.6L226.0 278.8L226.7 279.0L227.4 279.2L228.1 279.4L228.7 279.5L229.4 279.6L230.1 279.7L230.7 279.7L231.4 279.7L232.0 279.7L232.6 279.6L233.3 279.5L233.9 279.3L234.4 279.1L235.0 278.8L235.6 278.5L236.2 278.2L236.7 277.8L237.3 277.4L237.8 277.0L238.3 276.5L238.9 276.1L239.4 275.6L239.9 275.1L240.4 274.6L240.9 274.1L241.4 273.5L242.0 273.0L242.5 272.5L243.0 271.9L243.5 271.4L244.0 270.9L244.5 270.3L245.1 269.8L245.6 269.3L246.1 268.7L246.6 268.2L247.2 267.7L247.7 267.2L248.2 266.7L248.8 266.2L249.3 265.7L249.8 265.2L250.4 264.8L251.0 264.3L251.5 263.9L252.1 263.5L252.7 263.1L253.2 262.7L253.8 262.3L254.4 262.0L255.0 261.6L255.7 261.3L256.3 261.0L256.9 260.8L257.6 260.5L258.2 260.3L258.9 260.1L259.5 260.0L260.2 259.8L260.9 259.7L261.6 259.7L262.3 259.6L263.0 259.6L263.7 259.6L264.4 259.7L265.2 259.7L265.9 259.8L266.6 260.0L267.2 260.2L267.9 260.4L268.6 260.6L269.2 260.8L269.9 261.1L270.5 261.5L271.0 261.8L271.6 262.2L272.1 262.6L272.7 263.1L273.2 263.5L273.7 264.0L274.1 264.5L274.6 265.1L275.0 265.6L275.4 266.2L275.8 266.8L276.2 267.4L276.5 268.1L276.9 268.7L277.2 269.4L277.5 270.0L277.8 270.7L278.1 271.4L278.4 272.1L278.6 272.8L278.9 273.5L279.1 274.2L279.3 274.9L279.6 275.6L279.7 276.3L279.9 277.0L280.1 277.8L280.3 278.5L280.4 279.2L280.6 279.9L280.7 280.6L280.8 281.3L281.0 281.9L281.1 282.6L281.2 283.3L281.3 284.0L281.4 284.7L281.5 285.3L281.7 286.0L281.8 286.7L281.9 287.4L282.0 288.0L282.1 288.7L282.3 289.4L282.4 290.1L282.6 290.8L282.7 291.4L282.9 292.1L283.1 292.8L283.3 293.5L283.5 294.2L283.7 294.9L283.7 294.9L283.9 294.2L284.0 293.6L284.2 292.9L284.3 292.2L284.5 291.5L284.6 290.8L284.8 290.1L284.9 289.4L285.1 288.7L285.2 288.0L285.4 287.3L285.5 286.6L285.7 285.9L285.8 285.2L286.0 284.5L286.1 283.8L286.3 283.1L286.4 282.4L286.6 281.7L286.7 280.9L286.9 280.2L287.0 279.5L287.2 278.8L287.4 278.1L287.5 277.4L287.7 276.7L287.9 276.0L288.1 275.3L288.3 274.6L288.4 273.9L288.6 273.2L288.8 272.5L289.0 271.8L289.2 271.1L289.5 270.4L289.7 269.7L289.9 269.0L290.1 268.3L290.4 267.7L290.6 267.0L290.9 266.3L291.1 265.7L291.4 265.0L291.7 264.3L291.9 263.7L292.2 263.0L292.5 262.4L292.8 261.8L293.2 261.1L293.5 260.5L293.8 259.9L294.2 259.3L294.5 258.7L294.9 258.1L295.3 257.5L295.7 256.9L296.1 256.3L296.5 255.8L296.9 255.2L297.3 254.6L297.8 254.1L298.2 253.5L298.7 253.0L299.2 252.5L299.7 252.0L300.2 251.5L300.7 251.0L301.2 250.5L301.8 250.0L302.3 249.6L302.9 249.1L303.5 248.7L304.1 248.2L304.7 247.8L305.4 247.4L306.0 247.0" stroke="#0000ff"/>
</g>
<path d="M73.7 252.8L76.5 252.8M304.2 252.8L301.4 252.8M73.7 245.3L76.5 245.3M304.2 245.3L301.4 245.3M73.7 241.5L76.5 241.5M304.2 241.5L301.4 241.5M73.7 258.4L79.3 258.4M304.2 258.4L298.6 258.4M73.7 271.4L76.5 271.4M304.2 271.4L301.4 271.4M73.7 264.0L76.5 264.0M304.2 264.0L301.4 264.0M73.7 260.2L76.5 260.2M304.2 260.2L301.4 260.2M73.7 277.1L79.3 277.1M304.2 277.1L298.6 277.1M73.7 290.1L76.5 290.1M304.2 290.1L301.4 290.1M73.7 282.7L76.5 282.7M304.2 282.7L301.4 282.7M73.7 278.9L76.5 278.9M304.2 278.9L301.4 278.9M73.7 295.8L79.3 295.8M304.2 295.8L298.6 295.8M73.7 308.8L76.5 308.8M304.2 308.8L301.4 308.8M73.7 301.4L76.5 301.4M304.2 301.4L301.4 301.4M73.7 297.6L76.5 297.6M304.2 297.6L301.4 297.6M73.7 314.4L79.3 314.4M304.2 314.4L298.6 314.4M73.7 327.5L76.5 327.5M304.2 327.5L301.4 327.5M73.7 320.1L76.5 320.1M304.2 320.1L301.4 320.1M73.7 316.3L76.5 316.3M304.2 316.3L301.4 316.3M73.7 333.1L79.3 333.1M304.2 333.1L298.6 333.1M73.7 346.2L76.5 346.2M304.2 346.2L301.4 346.2M73.7 338.8L76.5 338.8M304.2 338.8L301.4 338.8M73.7 334.9L76.5 334.9M304.2 334.9L301.4 334.9M73.7 351.8L79.3 351.8M304.2 351.8L298.6 351.8M73.7 364.9L76.5 364.9M304.2 364.9L301.4 364.9M73.7 357.5L76.5 357.5M304.2 357.5L301.4 357.5M73.7 353.6L76.5 353.6M304.2 353.6L301.4 353.6M73.7 370.5L79.3 370.5M304.2 370.5L298.6 370.5M73.7 383.6L76.5 383.6M304.2 383.6L301.4 383.6M73.7 376.1L76.5 376.1M304.2 376.1L301.4 376.1M73.7 372.3L76.5 372.3M304.2 372.3L301.4 372.3M89.1 239.7L89.1 245.3M89.1 389.2L89.1 383.6M119.8 239.7L119.8 245.3M119.8 389.2L119.8 383.6M150.5 239.7L150.5 245.3M150.5 389.2L150.5 383.6M181.3 239.7L181.3 245.3M181.3 389.2L181.3 383.6M212.0 239.7L212.0 245.3M212.0 389.2L212.0 383.6M242.7 239.7L242.7 245.3M242.7 389.2L242.7 383.6M273.5 239.7L273.5 245.3M273.5 389.2L273.5 383.6" stroke="#000" stroke-width="0.9" fill="none"/>
<rect x="73.7" y="239.7" width="230.5" height="149.5" fill="none" stroke="#000" stroke-width="1"/>
<text x="63.9" y="246.9" text-anchor="end" font-size="16" font-family="Liberation Sans, Arial, Helvetica, sans-serif" stroke="#000" stroke-width="0.3" fill="#000">10<tspan dy="-8.2" font-size="12.8">-2</tspan></text>
<text x="63.9" y="265.6" text-anchor="end" font-size="16" font-family="Liberation Sans, Arial, Helvetica, sans-serif" stroke="#000" stroke-width="0.3" fill="#000">10<tspan dy="-8.2" font-size="12.8">-3</tspan></text>
<text x="63.9" y="284.3" text-anchor="end" font-size="16" font-family="Liberation Sans, Arial, Helvetica, sans-serif" stroke="#000" stroke-width="0.3" fill="#000">10<tspan dy="-8.2" font-size="12.8">-4</tspan></text>
<text x="63.9" y="303.0" text-anchor="end" font-size="16" font-family="Liberation Sans, Arial, Helvetica, sans-serif" stroke="#000" stroke-width="0.3" fill="#000">10<tspan dy="-8.2" font-size="12.8">-5</tspan></text>
<text x="63.9" y="321.6" text-anchor="end" font-size="16" font-family="Liberation Sans, Arial, Helvetica, sans-serif" stroke="#000" stroke-width="0.3" fill="#000">10<tspan dy="-8.2" font-size="12.8">-6</tspan></text>
<text x="63.9" y="340.3" text-anchor="end" font-size="16" font-family="Liberation Sans, Arial, Helvetica, sans-serif" stroke="#000" stroke-width="0.3" fill="#000">10<tspan dy="-8.2" font-size="12.8">-7</tspan></text>
<text x="63.9" y="359.0" text-anchor="end" font-size="16" font-family="Liberation Sans, Arial, Helvetica, sans-serif" stroke="#000" stroke-width="0.3" fill="#000">10<tspan dy="-8.2" font-size="12.8">-8</tspan></text>
<text x="63.9" y="377.7" text-anchor="end" font-size="16" font-family="Liberation Sans, Arial, Helvetica, sans-serif" stroke="#000" stroke-width="0.3" fill="#000">10<tspan dy="-8.2" font-size="12.8">-9</tspan></text>
<text x="63.9" y="396.4" text-anchor="end" font-size="16" font-family="Liberation Sans, Arial, Helvetica, sans-serif" stroke="#000" stroke-width="0.3" fill="#000">10<tspan dy="-8.2" font-size="12.8">-10</tspan></text>
<text x="91.4" y="411.7" text-anchor="middle" font-size="16" font-family="Liberation Sans, Arial, Helvetica, sans-serif" stroke="#000" stroke-width="0.3" fill="#000">0.6</text>
<text x="122.1" y="411.7" text-anchor="middle" font-size="16" font-family="Liberation Sans, Arial, Helvetica, sans-serif" stroke="#000" stroke-width="0.3" fill="#000">0.8</text>
<text x="152.8" y="411.7" text-anchor="middle" font-size="16" font-family="Liberation Sans, Arial, Helvetica, sans-serif" stroke="#000" stroke-width="0.3" fill="#000">1</text>
<text x="183.6" y="411.7" text-anchor="middle" font-size="16" font-family="Liberation Sans, Arial, Helvetica, sans-serif" stroke="#000" stroke-width="0.3" fill="#000">1.2</text>
<text x="214.3" y="411.7" text-anchor="middle" font-size="16" font-family="Liberation Sans, Arial, Helvetica, sans-serif" stroke="#000" stroke-width="0.3" fill="#000">1.4</text>
<text x="245.0" y="411.7" text-anchor="middle" font-size="16" font-family="Liberation Sans, Arial, Helvetica, sans-serif" stroke="#000" stroke-width="0.3" fill="#000">1.6</text>
<text x="275.8" y="411.7" text-anchor="middle" font-size="16" font-family="Liberation Sans, Arial, Helvetica, sans-serif" stroke="#000" stroke-width="0.3" fill="#000">1.8</text>
<text x="306.5" y="411.7" text-anchor="middle" font-size="16" font-family="Liberation Sans, Arial, Helvetica, sans-serif" stroke="#000" stroke-width="0.3" fill="#000">2</text>
<text x="242.4" y="357.1" font-size="16" font-family="Liberation Sans, Arial, Helvetica, sans-serif" stroke="#000" stroke-width="0.3" fill="#000">c)</text>
<text x="122.6" y="366.9" font-size="15" font-family="Liberation Sans, Arial, Helvetica, sans-serif" stroke="#000" stroke-width="0.3" fill="#000">cut-off</text>
<g clip-path="url(#cpd)" fill="none" stroke-width="1.4" stroke-linejoin="round" stroke-linecap="butt">
<path d="M384.4 382.1L385.1 381.8L385.8 381.5L386.5 381.3L387.2 381.2L387.9 381.2L388.6 381.3L389.2 381.4L389.9 381.6L390.6 381.8L391.2 382.1L391.9 382.4L392.6 382.8L393.2 383.2L393.9 383.6L394.6 384.0L395.2 384.3L395.9 384.7L396.5 385.0L397.2 385.3L397.8 385.4L398.3 385.5L398.9 385.5L399.4 385.4L400.0 385.2L400.4 384.8L400.9 384.4L401.3 383.8L401.8 383.2L402.2 382.6L402.6 382.0L403.1 381.4L403.5 380.8L404.0 380.2L404.4 379.7L404.9 379.2L405.4 378.7L406.0 378.2L406.5 377.7L407.1 377.3L407.7 376.9L408.4 376.5L409.0 376.1L409.6 375.7L410.3 375.4L411.0 375.1L411.7 374.8L412.4 374.5L413.1 374.3L413.8 374.1L414.5 373.9L415.2 373.8L415.9 373.6L416.6 373.5L417.3 373.5L418.0 373.5L418.7 373.5L419.4 373.5L420.1 373.5L420.8 373.6L421.4 373.7L422.1 373.9L422.8 374.0L423.4 374.2L424.1 374.4L424.8 374.6L425.4 374.8L426.1 375.0L426.8 375.3L427.4 375.5L428.1 375.8L428.7 376.1L429.4 376.4L430.0 376.7L430.7 377.0L431.3 377.3L432.0 377.6L432.6 377.9L433.2 378.2L433.9 378.6L434.5 378.9L435.2 379.2L435.8 379.5L435.8 379.5L436.0 378.8L436.2 378.1L436.5 377.4L436.7 376.7L437.0 376.0L437.3 375.4L437.6 374.8L438.0 374.2L438.3 373.6L438.7 373.0L439.1 372.5L439.5 371.9L439.9 371.4L440.4 370.9L440.8 370.4L441.3 369.9L441.7 369.4L442.2 368.9L442.7 368.4L443.2 368.0L443.7 367.5L444.3 367.1L444.8 366.6L445.3 366.2L445.9 365.8L446.4 365.4L447.0 365.0L447.6 364.5L448.1 364.1L448.7 363.7L449.3 363.3L449.9 362.9L450.5 362.5L451.0 362.1L451.6 361.7L452.2 361.3L452.8 360.9L453.4 360.5L454.0 360.1L454.5 359.7L455.1 359.3L455.7 358.9L456.3 358.5L456.8 358.1L457.4 357.6L457.9 357.2L458.5 356.8L459.1 356.3L459.6 355.9L460.1 355.5L460.7 355.0L461.2 354.6L461.8 354.1L462.3 353.6L462.8 353.2L463.4 352.7L463.9 352.3L464.4 351.8L464.9 351.3L465.5 350.9L466.0 350.4L466.5 349.9L467.0 349.5L467.5 349.0L468.0 348.5L468.6 348.0L469.1 347.5L469.6 347.1L470.1 346.6L470.6 346.1L471.1 345.6L471.6 345.2L472.2 344.7L472.7 344.2L473.2 343.7L473.7 343.3L474.2 342.8L474.7 342.3L475.2 341.8L475.8 341.4L476.3 340.9L476.8 340.4L477.3 340.0L477.8 339.5L478.4 339.0L478.9 338.6L479.4 338.1L480.0 337.7L480.5 337.2L481.0 336.7L481.6 336.3L482.1 335.9L482.6 335.4L483.2 335.0L483.7 334.5L484.3 334.1L484.8 333.7L485.4 333.3L486.0 332.8L486.5 332.4L487.1 332.0L487.6 331.5L488.2 331.1L488.7 330.7L489.3 330.3L489.8 329.8L490.4 329.4L490.9 329.0L491.5 328.5L492.0 328.1L492.6 327.7L493.1 327.2L493.7 326.8L494.2 326.3L494.8 325.9L495.3 325.5L495.8 325.0L496.4 324.6L496.9 324.1L497.4 323.7L498.0 323.2L498.5 322.8L499.1 322.3L499.6 321.9L500.1 321.4L500.7 321.0L501.2 320.5L501.7 320.1L502.3 319.6L502.8 319.1L503.3 318.7L503.9 318.2L504.4 317.8L504.9 317.3L505.4 316.9L506.0 316.4L506.5 315.9L507.0 315.5L507.6 315.0L508.1 314.6L508.6 314.1L509.2 313.6L509.7 313.2L510.3 312.7L510.8 312.3L511.3 311.8L511.9 311.4L512.4 310.9L512.9 310.4L513.5 310.0L514.0 309.5L514.6 309.1L515.1 308.6L515.6 308.2L516.2 307.7L516.7 307.3L517.3 306.9L517.8 306.4L518.4 306.0L518.9 305.5L519.5 305.1L520.0 304.7L520.6 304.2L521.1 303.8L521.7 303.4L522.2 302.9L522.8 302.5L523.4 302.1L523.9 301.7L524.5 301.2L525.0 300.8L525.6 300.4L526.2 300.0L526.8 299.6L527.3 299.2L527.9 298.8L528.5 298.4L529.1 298.0L529.6 297.6L530.2 297.2L530.8 296.8L531.4 296.5L532.0 296.1L532.6 295.7L533.2 295.3L533.8 295.0L534.4 294.6L535.0 294.2L535.6 293.9L536.2 293.5L536.8 293.2L537.4 292.8L538.0 292.5L538.6 292.1L539.2 291.8L539.8 291.4L540.4 291.1L541.1 290.8L541.7 290.4L542.3 290.1L542.9 289.8L543.5 289.5L544.2 289.1L544.8 288.8L545.4 288.5L546.0 288.2L546.7 287.8L547.3 287.5L547.9 287.2L548.5 286.9L549.2 286.6L549.8 286.3L550.4 285.9L551.1 285.6L551.7 285.3L552.3 285.0L553.0 284.7L553.6 284.4L554.2 284.1L554.9 283.8L555.5 283.5L556.1 283.2L556.8 282.8L557.4 282.5L558.0 282.2L558.7 281.9L559.3 281.6L559.9 281.3L560.6 281.0L561.2 280.7L561.8 280.4L562.4 280.0L563.1 279.7L563.7 279.4L564.3 279.1L565.0 278.8L565.6 278.4L566.2 278.1L566.8 277.8L567.5 277.5L568.1 277.2L568.7 276.8L569.3 276.5L570.0 276.2L570.6 275.9L571.2 275.5L571.8 275.2L572.5 274.9L573.1 274.6L573.7 274.3L574.3 273.9L574.9 273.6L575.6 273.3L576.2 273.0L576.8 272.6L577.4 272.3L578.1 272.0L578.7 271.7L579.3 271.4L579.9 271.0L580.6 270.7L581.2 270.4L581.8 270.1L582.5 269.8L583.1 269.5L583.7 269.2L584.3 268.9L585.0 268.6L585.6 268.3L586.2 268.0L586.9 267.7L587.5 267.4L588.1 267.1L588.8 266.8L589.4 266.5L590.1 266.2L590.7 265.9L591.3 265.6L592.0 265.3L592.6 265.1L593.3 264.8L593.9 264.5L594.6 264.2L595.2 264.0L595.9 263.7L596.5 263.4L597.2 263.2L597.8 262.9L598.5 262.7L599.1 262.4L599.8 262.1L600.4 261.9L601.1 261.6L601.8 261.4L602.4 261.1L603.1 260.9L603.7 260.7L604.4 260.4L605.1 260.2L605.7 259.9L606.4 259.7L607.0 259.5L607.7 259.2L608.4 259.0L609.0 258.8L609.7 258.5L610.4 258.3L611.0 258.1L611.7 257.9L612.4 257.7L613.0 257.4L613.7 257.2L614.4 257.0L615.1 256.8L615.7 256.6L616.4 256.4L617.1 256.2L617.7 256.0L618.4 255.8L619.1 255.6L619.8 255.4L620.4 255.2L621.1 255.0L621.8 254.8L622.5 254.6L623.1 254.4L623.8 254.2L624.5 254.0L625.2 253.8L625.9 253.6L626.5 253.4L627.2 253.3L627.9 253.1L628.6 252.9L629.2 252.7L629.9 252.5L630.6 252.4L631.3 252.2L632.0 252.0L632.6 251.8L633.3 251.7L634.0 251.5" stroke="#cc0a14"/>
<path d="M384.4 339.0L385.1 339.0L385.8 338.9L386.5 338.9L387.2 338.8L387.9 338.7L388.6 338.6L389.2 338.5L389.9 338.4L390.6 338.3L391.3 338.2L392.0 338.1L392.7 337.9L393.4 337.8L394.1 337.6L394.8 337.5L395.5 337.4L396.2 337.2L396.9 337.1L397.6 336.9L398.3 336.8L399.0 336.7L399.7 336.5L400.4 336.4L401.1 336.3L401.8 336.2L402.5 336.1L403.2 336.0L403.9 335.9L404.6 335.9L405.3 335.8L406.0 335.8L406.6 335.8L407.3 335.8L408.0 335.8L408.7 335.8L409.4 335.8L410.1 335.9L410.8 336.0L411.5 336.1L412.2 336.2L412.9 336.4L413.6 336.5L414.3 336.7L415.0 336.9L415.7 337.0L416.4 337.2L417.1 337.4L417.8 337.6L418.5 337.8L419.2 337.9L419.9 338.1L420.6 338.3L421.3 338.4L422.0 338.5L422.6 338.6L423.3 338.7L424.0 338.8L424.7 338.9L425.4 338.9L426.1 338.9L426.7 338.8L427.4 338.8L428.1 338.7L428.8 338.6L429.5 338.5L430.1 338.4L430.8 338.2L431.5 338.1L432.1 337.9L432.8 337.7L433.5 337.5L434.2 337.3L434.8 337.0L435.5 336.8L436.2 336.6L436.8 336.3L437.5 336.1L438.2 335.9L438.8 335.6L439.5 335.4L440.2 335.1L440.8 334.9L441.5 334.6L442.2 334.4L442.8 334.2L443.5 334.0L444.2 333.8L444.8 333.6L445.5 333.4L446.2 333.3L446.9 333.1L447.5 333.0L448.2 332.9L448.9 332.8L449.6 332.7L450.2 332.7L450.9 332.7L451.6 332.7L452.3 332.7L452.9 332.7L453.6 332.8L454.3 332.9L455.0 333.0L455.7 333.2L456.4 333.3L457.0 333.4L457.7 333.6L458.4 333.8L459.1 334.0L459.8 334.1L460.5 334.3L461.2 334.5L461.8 334.7L462.5 334.9L463.2 335.1L463.9 335.3L464.6 335.5L465.3 335.6L466.0 335.8L466.6 336.0L467.3 336.1L468.0 336.2L468.7 336.3L469.4 336.4L470.1 336.5L470.7 336.5L471.4 336.6L472.1 336.6L472.8 336.5L473.4 336.5L474.1 336.4L474.8 336.3L475.4 336.2L476.1 336.1L476.8 335.9L477.4 335.8L478.1 335.6L478.8 335.4L479.4 335.2L480.1 335.0L480.7 334.7L481.4 334.5L482.1 334.2L482.7 334.0L483.4 333.7L484.0 333.4L484.6 333.1L485.3 332.8L485.9 332.5L486.5 332.2L487.2 331.8L487.8 331.5L488.4 331.1L489.0 330.8L489.7 330.4L490.3 330.0L490.9 329.6L491.5 329.2L492.0 328.8L492.6 328.4L493.2 328.0L493.8 327.6L494.4 327.2L494.9 326.7L495.5 326.3L496.0 325.8L496.6 325.4L497.1 324.9L497.6 324.5L498.1 324.0L498.7 323.6L499.2 323.1L499.7 322.6L500.2 322.1L500.7 321.7L501.2 321.2L501.7 320.7L502.2 320.2L502.7 319.7L503.2 319.3L503.7 318.8L504.2 318.3L504.7 317.8L505.2 317.3L505.7 316.8L506.2 316.4L506.7 315.9L507.2 315.4L507.8 314.9L508.3 314.5L508.8 314.0L509.3 313.5L509.8 313.1L510.4 312.6L510.9 312.1L511.4 311.7L511.9 311.2L512.5 310.8L513.0 310.3L513.5 309.8L514.1 309.4L514.6 308.9L515.1 308.5L515.7 308.0L516.2 307.6L516.8 307.2L517.3 306.7L517.9 306.3L518.4 305.8L519.0 305.4L519.5 305.0L520.1 304.5L520.6 304.1L521.2 303.7L521.8 303.3L522.3 302.8L522.9 302.4L523.5 302.0L524.0 301.6L524.6 301.2L525.2 300.8L525.7 300.4L526.3 300.0L526.9 299.5L527.5 299.1L528.1 298.7L528.6 298.4L529.2 298.0L529.8 297.6L530.4 297.2L531.0 296.8L531.6 296.4L532.2 296.0L532.8 295.7L533.4 295.3L533.9 294.9L534.5 294.5L535.1 294.2L535.7 293.8L536.4 293.5L537.0 293.1L537.6 292.7L538.2 292.4L538.8 292.1L539.4 291.7L540.0 291.4L540.6 291.0L541.2 290.7L541.9 290.4L542.5 290.0L543.1 289.7L543.7 289.4L544.3 289.1L545.0 288.7L545.6 288.4L546.2 288.1L546.8 287.8L547.5 287.5L548.1 287.2L548.7 286.8L549.3 286.5L550.0 286.2L550.6 285.9L551.2 285.6L551.9 285.3L552.5 285.0L553.1 284.7L553.7 284.4L554.4 284.1L555.0 283.8L555.6 283.5L556.3 283.2L556.9 282.9L557.5 282.5L558.2 282.2L558.8 281.9L559.4 281.6L560.0 281.3L560.7 281.0L561.3 280.7L561.9 280.4L562.5 280.0L563.2 279.7L563.8 279.4L564.4 279.1L565.0 278.8L565.7 278.4L566.3 278.1L566.9 277.8L567.5 277.4L568.1 277.1L568.8 276.8L569.4 276.5L570.0 276.1L570.6 275.8L571.2 275.5L571.9 275.1L572.5 274.8L573.1 274.5L573.7 274.1L574.3 273.8L575.0 273.5L575.6 273.2L576.2 272.8L576.8 272.5L577.5 272.2L578.1 271.9L578.7 271.6L579.3 271.3L580.0 270.9L580.6 270.6L581.2 270.3L581.9 270.0L582.5 269.7L583.1 269.4L583.8 269.1L584.4 268.8L585.0 268.5L585.7 268.2L586.3 267.9L586.9 267.6L587.6 267.3L588.2 267.1L588.9 266.8L589.5 266.5L590.1 266.2L590.8 265.9L591.4 265.6L592.1 265.4L592.7 265.1L593.4 264.8L594.0 264.5L594.7 264.3L595.3 264.0L596.0 263.7L596.6 263.5L597.3 263.2L597.9 262.9L598.6 262.7L599.2 262.4L599.9 262.2L600.5 261.9L601.2 261.7L601.8 261.4L602.5 261.2L603.1 260.9L603.8 260.7L604.5 260.4L605.1 260.2L605.8 259.9L606.4 259.7L607.1 259.5L607.8 259.2L608.4 259.0L609.1 258.8L609.7 258.5L610.4 258.3L611.1 258.1L611.7 257.9L612.4 257.6L613.1 257.4L613.7 257.2L614.4 257.0L615.1 256.8L615.7 256.6L616.4 256.4L617.1 256.1L617.8 255.9L618.4 255.7L619.1 255.5L619.8 255.3L620.4 255.1L621.1 254.9L621.8 254.7L622.5 254.5L623.1 254.3L623.8 254.2L624.5 254.0L625.2 253.8L625.8 253.6L626.5 253.4L627.2 253.2L627.9 253.0L628.6 252.9L629.2 252.7L629.9 252.5L630.6 252.3L631.3 252.2L632.0 252.0L632.6 251.8L633.3 251.7L634.0 251.5" stroke="#000"/>
<path d="M384.4 340.1L385.1 340.1L385.8 340.0L386.5 340.0L387.2 339.9L387.9 339.8L388.6 339.7L389.3 339.6L390.0 339.5L390.7 339.4L391.4 339.3L392.1 339.2L392.8 339.1L393.5 339.0L394.2 338.8L394.9 338.7L395.6 338.6L396.3 338.5L397.0 338.3L397.7 338.2L398.4 338.1L399.1 338.0L399.8 337.8L400.5 337.7L401.2 337.6L401.9 337.5L402.6 337.4L403.3 337.3L404.0 337.2L404.7 337.1L405.4 337.0L406.1 337.0L406.8 336.9L407.5 336.9L408.2 336.8L408.9 336.8L409.6 336.8L410.2 336.8L410.9 336.8L411.6 336.9L412.3 336.9L413.0 337.0L413.7 337.1L414.4 337.2L415.1 337.3L415.8 337.4L416.5 337.6L417.1 337.7L417.8 337.9L418.5 338.2L419.2 338.4L419.9 338.7L420.5 338.9L421.2 339.2L421.9 339.6L422.6 339.9L423.2 340.2L423.9 340.5L424.6 340.8L425.2 341.2L425.9 341.5L426.5 341.7L427.2 342.0L427.8 342.2L428.5 342.4L429.1 342.6L429.7 342.7L430.4 342.8L431.0 342.8L431.6 342.7L432.2 342.7L432.8 342.5L433.4 342.3L434.0 342.0L434.6 341.7L435.2 341.4L435.8 341.0L436.3 340.5L436.9 340.1L437.5 339.6L438.1 339.2L438.7 338.7L439.3 338.2L439.9 337.8L440.5 337.3L441.1 336.9L441.8 336.5L442.4 336.1L443.0 335.8L443.7 335.4L444.4 335.2L445.0 334.9L445.7 334.7L446.4 334.5L447.1 334.3L447.8 334.2L448.5 334.0L449.2 334.0L449.9 333.9L450.6 333.8L451.3 333.8L452.0 333.8L452.7 333.9L453.4 333.9L454.2 334.0L454.9 334.1L455.6 334.2L456.3 334.3L457.0 334.5L457.6 334.6L458.3 334.8L459.0 335.0L459.7 335.3L460.3 335.5L461.0 335.8L461.6 336.1L462.2 336.5L462.8 336.8L463.4 337.2L463.9 337.6L464.5 338.0L465.0 338.5L465.5 338.9L465.9 339.5L466.4 340.0L466.8 340.5L467.2 341.1L467.5 341.7L467.8 342.4L468.1 343.0L468.4 343.7L468.7 344.4L469.0 345.1L469.2 345.8L469.4 346.5L469.7 347.2L469.9 347.9L470.1 348.6L470.4 349.3L470.6 350.0L470.9 350.6L471.1 351.3L471.4 351.9L471.7 352.5L472.0 353.1L472.0 353.1L472.1 352.4L472.2 351.6L472.4 350.9L472.5 350.2L472.7 349.5L472.8 348.8L473.0 348.0L473.2 347.4L473.5 346.7L473.7 346.0L474.0 345.4L474.3 344.7L474.6 344.1L475.0 343.5L475.4 343.0L475.8 342.4L476.2 341.9L476.7 341.4L477.2 341.0L477.7 340.5L478.2 340.1L478.8 339.7L479.4 339.3L480.0 339.0L480.6 338.6L481.2 338.3L481.8 337.9L482.4 337.5L483.0 337.2L483.6 336.8L484.1 336.4L484.7 336.0L485.3 335.6L485.8 335.1L486.4 334.7L487.0 334.3L487.5 333.8L488.0 333.4L488.6 332.9L489.1 332.5L489.6 332.0L490.2 331.5L490.7 331.1L491.2 330.6L491.7 330.1L492.2 329.6L492.7 329.1L493.2 328.6L493.7 328.1L494.2 327.6L494.7 327.1L495.2 326.6L495.7 326.1L496.2 325.6L496.7 325.1L497.2 324.5L497.7 324.0L498.2 323.5L498.6 323.0L499.1 322.5L499.6 322.0L500.1 321.5L500.6 321.0L501.1 320.5L501.6 320.0L502.1 319.5L502.6 319.0L503.2 318.5L503.7 318.0L504.2 317.5L504.7 317.1L505.2 316.6L505.7 316.1L506.3 315.6L506.8 315.2L507.3 314.7L507.8 314.2L508.4 313.8L508.9 313.3L509.4 312.9L510.0 312.4L510.5 312.0L511.0 311.5L511.6 311.1L512.1 310.6L512.7 310.2L513.2 309.8L513.8 309.3L514.3 308.9L514.9 308.5L515.4 308.0L516.0 307.6L516.5 307.2L517.1 306.8L517.7 306.4L518.2 305.9L518.8 305.5L519.3 305.1L519.9 304.7L520.5 304.3L521.1 303.9L521.6 303.5L522.2 303.1L522.8 302.7L523.3 302.3L523.9 301.9L524.5 301.5L525.1 301.1L525.7 300.7L526.2 300.3L526.8 299.9L527.4 299.6L528.0 299.2L528.6 298.8L529.2 298.4L529.8 298.0L530.4 297.7L531.0 297.3L531.5 296.9L532.1 296.6L532.7 296.2L533.3 295.8L533.9 295.4L534.5 295.1L535.1 294.7L535.7 294.4L536.3 294.0L536.9 293.6L537.5 293.3L538.1 292.9L538.8 292.6L539.4 292.2L540.0 291.9L540.6 291.5L541.2 291.2L541.8 290.8L542.4 290.5L543.0 290.1L543.6 289.8L544.2 289.4L544.9 289.1L545.5 288.7L546.1 288.4L546.7 288.1L547.3 287.7L547.9 287.4L548.5 287.0L549.2 286.7L549.8 286.4L550.4 286.0L551.0 285.7L551.6 285.4L552.3 285.0L552.9 284.7L553.5 284.4L554.1 284.0L554.7 283.7L555.4 283.4L556.0 283.0L556.6 282.7L557.2 282.4L557.9 282.0L558.5 281.7L559.1 281.4L559.7 281.1L560.3 280.7L561.0 280.4L561.6 280.1L562.2 279.8L562.8 279.4L563.5 279.1L564.1 278.8L564.7 278.5L565.4 278.1L566.0 277.8L566.6 277.5L567.2 277.2L567.9 276.9L568.5 276.5L569.1 276.2L569.7 275.9L570.4 275.6L571.0 275.3L571.6 275.0L572.3 274.7L572.9 274.3L573.5 274.0L574.2 273.7L574.8 273.4L575.4 273.1L576.1 272.8L576.7 272.5L577.3 272.2L578.0 271.9L578.6 271.6L579.2 271.3L579.9 271.0L580.5 270.7L581.1 270.4L581.8 270.1L582.4 269.8L583.1 269.5L583.7 269.2L584.3 268.9L585.0 268.6L585.6 268.3L586.3 268.0L586.9 267.8L587.5 267.5L588.2 267.2L588.8 266.9L589.5 266.6L590.1 266.3L590.8 266.1L591.4 265.8L592.1 265.5L592.7 265.2L593.3 265.0L594.0 264.7L594.6 264.4L595.3 264.1L595.9 263.9L596.6 263.6L597.2 263.3L597.9 263.1L598.5 262.8L599.2 262.6L599.8 262.3L600.5 262.0L601.2 261.8L601.8 261.5L602.5 261.3L603.1 261.0L603.8 260.8L604.4 260.5L605.1 260.3L605.7 260.0L606.4 259.8L607.1 259.6L607.7 259.3L608.4 259.1L609.0 258.8L609.7 258.6L610.4 258.4L611.0 258.1L611.7 257.9L612.4 257.7L613.0 257.5L613.7 257.2L614.4 257.0L615.0 256.8L615.7 256.6L616.4 256.4L617.0 256.2L617.7 255.9L618.4 255.7L619.0 255.5L619.7 255.3L620.4 255.1L621.1 254.9L621.7 254.7L622.4 254.5L623.1 254.3L623.8 254.1L624.4 253.9L625.1 253.8L625.8 253.6L626.5 253.4L627.2 253.2L627.8 253.0L628.5 252.8L629.2 252.7L629.9 252.5L630.6 252.3L631.3 252.2L631.9 252.0L632.6 251.8L633.3 251.7L634.0 251.5" stroke="#0000ff"/>
</g>
<path d="M384.6 248.0L387.4 248.0M631.3 248.0L628.5 248.0M384.6 256.3L390.2 256.3M631.3 256.3L625.7 256.3M384.6 264.6L387.4 264.6M631.3 264.6L628.5 264.6M384.6 272.9L390.2 272.9M631.3 272.9L625.7 272.9M384.6 281.2L387.4 281.2M631.3 281.2L628.5 281.2M384.6 289.5L390.2 289.5M631.3 289.5L625.7 289.5M384.6 297.8L387.4 297.8M631.3 297.8L628.5 297.8M384.6 306.1L390.2 306.1M631.3 306.1L625.7 306.1M384.6 314.4L387.4 314.4M631.3 314.4L628.5 314.4M384.6 322.8L390.2 322.8M631.3 322.8L625.7 322.8M384.6 331.1L387.4 331.1M631.3 331.1L628.5 331.1M384.6 339.4L390.2 339.4M631.3 339.4L625.7 339.4M384.6 347.7L387.4 347.7M631.3 347.7L628.5 347.7M384.6 356.0L390.2 356.0M631.3 356.0L625.7 356.0M384.6 364.3L387.4 364.3M631.3 364.3L628.5 364.3M384.6 372.6L390.2 372.6M631.3 372.6L625.7 372.6M384.6 380.9L387.4 380.9M631.3 380.9L628.5 380.9M401.0 239.7L401.0 245.3M401.0 389.2L401.0 383.6M433.9 239.7L433.9 245.3M433.9 389.2L433.9 383.6M466.8 239.7L466.8 245.3M466.8 389.2L466.8 383.6M499.7 239.7L499.7 245.3M499.7 389.2L499.7 383.6M532.6 239.7L532.6 245.3M532.6 389.2L532.6 383.6M565.5 239.7L565.5 245.3M565.5 389.2L565.5 383.6M598.4 239.7L598.4 245.3M598.4 389.2L598.4 383.6" stroke="#000" stroke-width="0.9" fill="none"/>
<rect x="384.6" y="239.7" width="246.7" height="149.5" fill="none" stroke="#000" stroke-width="1"/>
<text x="374.8" y="246.9" text-anchor="end" font-size="16" font-family="Liberation Sans, Arial, Helvetica, sans-serif" stroke="#000" stroke-width="0.3" fill="#000">10<tspan dy="-8.2" font-size="12.8">-2</tspan></text>
<text x="374.8" y="263.5" text-anchor="end" font-size="16" font-family="Liberation Sans, Arial, Helvetica, sans-serif" stroke="#000" stroke-width="0.3" fill="#000">10<tspan dy="-8.2" font-size="12.8">-4</tspan></text>
<text x="374.8" y="280.1" text-anchor="end" font-size="16" font-family="Liberation Sans, Arial, Helvetica, sans-serif" stroke="#000" stroke-width="0.3" fill="#000">10<tspan dy="-8.2" font-size="12.8">-6</tspan></text>
<text x="374.8" y="296.7" text-anchor="end" font-size="16" font-family="Liberation Sans, Arial, Helvetica, sans-serif" stroke="#000" stroke-width="0.3" fill="#000">10<tspan dy="-8.2" font-size="12.8">-8</tspan></text>
<text x="374.8" y="313.3" text-anchor="end" font-size="16" font-family="Liberation Sans, Arial, Helvetica, sans-serif" stroke="#000" stroke-width="0.3" fill="#000">10<tspan dy="-8.2" font-size="12.8">-10</tspan></text>
<text x="374.8" y="330.0" text-anchor="end" font-size="16" font-family="Liberation Sans, Arial, Helvetica, sans-serif" stroke="#000" stroke-width="0.3" fill="#000">10<tspan dy="-8.2" font-size="12.8">-12</tspan></text>
<text x="374.8" y="346.6" text-anchor="end" font-size="16" font-family="Liberation Sans, Arial, Helvetica, sans-serif" stroke="#000" stroke-width="0.3" fill="#000">10<tspan dy="-8.2" font-size="12.8">-14</tspan></text>
<text x="374.8" y="363.2" text-anchor="end" font-size="16" font-family="Liberation Sans, Arial, Helvetica, sans-serif" stroke="#000" stroke-width="0.3" fill="#000">10<tspan dy="-8.2" font-size="12.8">-16</tspan></text>
<text x="374.8" y="379.8" text-anchor="end" font-size="16" font-family="Liberation Sans, Arial, Helvetica, sans-serif" stroke="#000" stroke-width="0.3" fill="#000">10<tspan dy="-8.2" font-size="12.8">-18</tspan></text>
<text x="374.8" y="396.4" text-anchor="end" font-size="16" font-family="Liberation Sans, Arial, Helvetica, sans-serif" stroke="#000" stroke-width="0.3" fill="#000">10<tspan dy="-8.2" font-size="12.8">-20</tspan></text>
<text x="403.3" y="411.7" text-anchor="middle" font-size="16" font-family="Liberation Sans, Arial, Helvetica, sans-serif" stroke="#000" stroke-width="0.3" fill="#000">0.6</text>
<text x="436.2" y="411.7" text-anchor="middle" font-size="16" font-family="Liberation Sans, Arial, Helvetica, sans-serif" stroke="#000" stroke-width="0.3" fill="#000">0.8</text>
<text x="469.1" y="411.7" text-anchor="middle" font-size="16" font-family="Liberation Sans, Arial, Helvetica, sans-serif" stroke="#000" stroke-width="0.3" fill="#000">1</text>
<text x="502.0" y="411.7" text-anchor="middle" font-size="16" font-family="Liberation Sans, Arial, Helvetica, sans-serif" stroke="#000" stroke-width="0.3" fill="#000">1.2</text>
<text x="534.9" y="411.7" text-anchor="middle" font-size="16" font-family="Liberation Sans, Arial, Helvetica, sans-serif" stroke="#000" stroke-width="0.3" fill="#000">1.4</text>
<text x="567.8" y="411.7" text-anchor="middle" font-size="16" font-family="Liberation Sans, Arial, Helvetica, sans-serif" stroke="#000" stroke-width="0.3" fill="#000">1.6</text>
<text x="600.7" y="411.7" text-anchor="middle" font-size="16" font-family="Liberation Sans, Arial, Helvetica, sans-serif" stroke="#000" stroke-width="0.3" fill="#000">1.8</text>
<text x="633.6" y="411.7" text-anchor="middle" font-size="16" font-family="Liberation Sans, Arial, Helvetica, sans-serif" stroke="#000" stroke-width="0.3" fill="#000">2</text>
<text x="565.0" y="355.6" font-size="16" font-family="Liberation Sans, Arial, Helvetica, sans-serif" stroke="#000" stroke-width="0.3" fill="#000">d)</text>
<text transform="translate(13.0 103.0) rotate(-90)" text-anchor="middle" font-size="16.3" font-family="Liberation Sans, Arial, Helvetica, sans-serif" stroke="#000" stroke-width="0.3" fill="#000">QPI signal [arb.]</text>
<text transform="translate(13.0 312.5) rotate(-90)" text-anchor="middle" font-size="16.3" font-family="Liberation Sans, Arial, Helvetica, sans-serif" stroke="#000" stroke-width="0.3" fill="#000">QPI signal [arb.]</text>
<text x="189.3" y="436.8" text-anchor="middle" font-size="16.3" font-family="Liberation Sans, Arial, Helvetica, sans-serif" stroke="#000" stroke-width="0.3" fill="#000">Intensity [10<tspan dy="-8.2" font-size="13.1">14</tspan><tspan dy="8.2"> W/cm</tspan><tspan dy="-8.2" font-size="13.1">2</tspan><tspan dy="8.2">]</tspan></text>
<text x="507.8" y="436.8" text-anchor="middle" font-size="16.3" font-family="Liberation Sans, Arial, Helvetica, sans-serif" stroke="#000" stroke-width="0.3" fill="#000">Intensity [10<tspan dy="-8.2" font-size="13.1">14</tspan><tspan dy="8.2"> W/cm</tspan><tspan dy="-8.2" font-size="13.1">2</tspan><tspan dy="8.2">]</tspan></text>
</svg>
</body></html>
